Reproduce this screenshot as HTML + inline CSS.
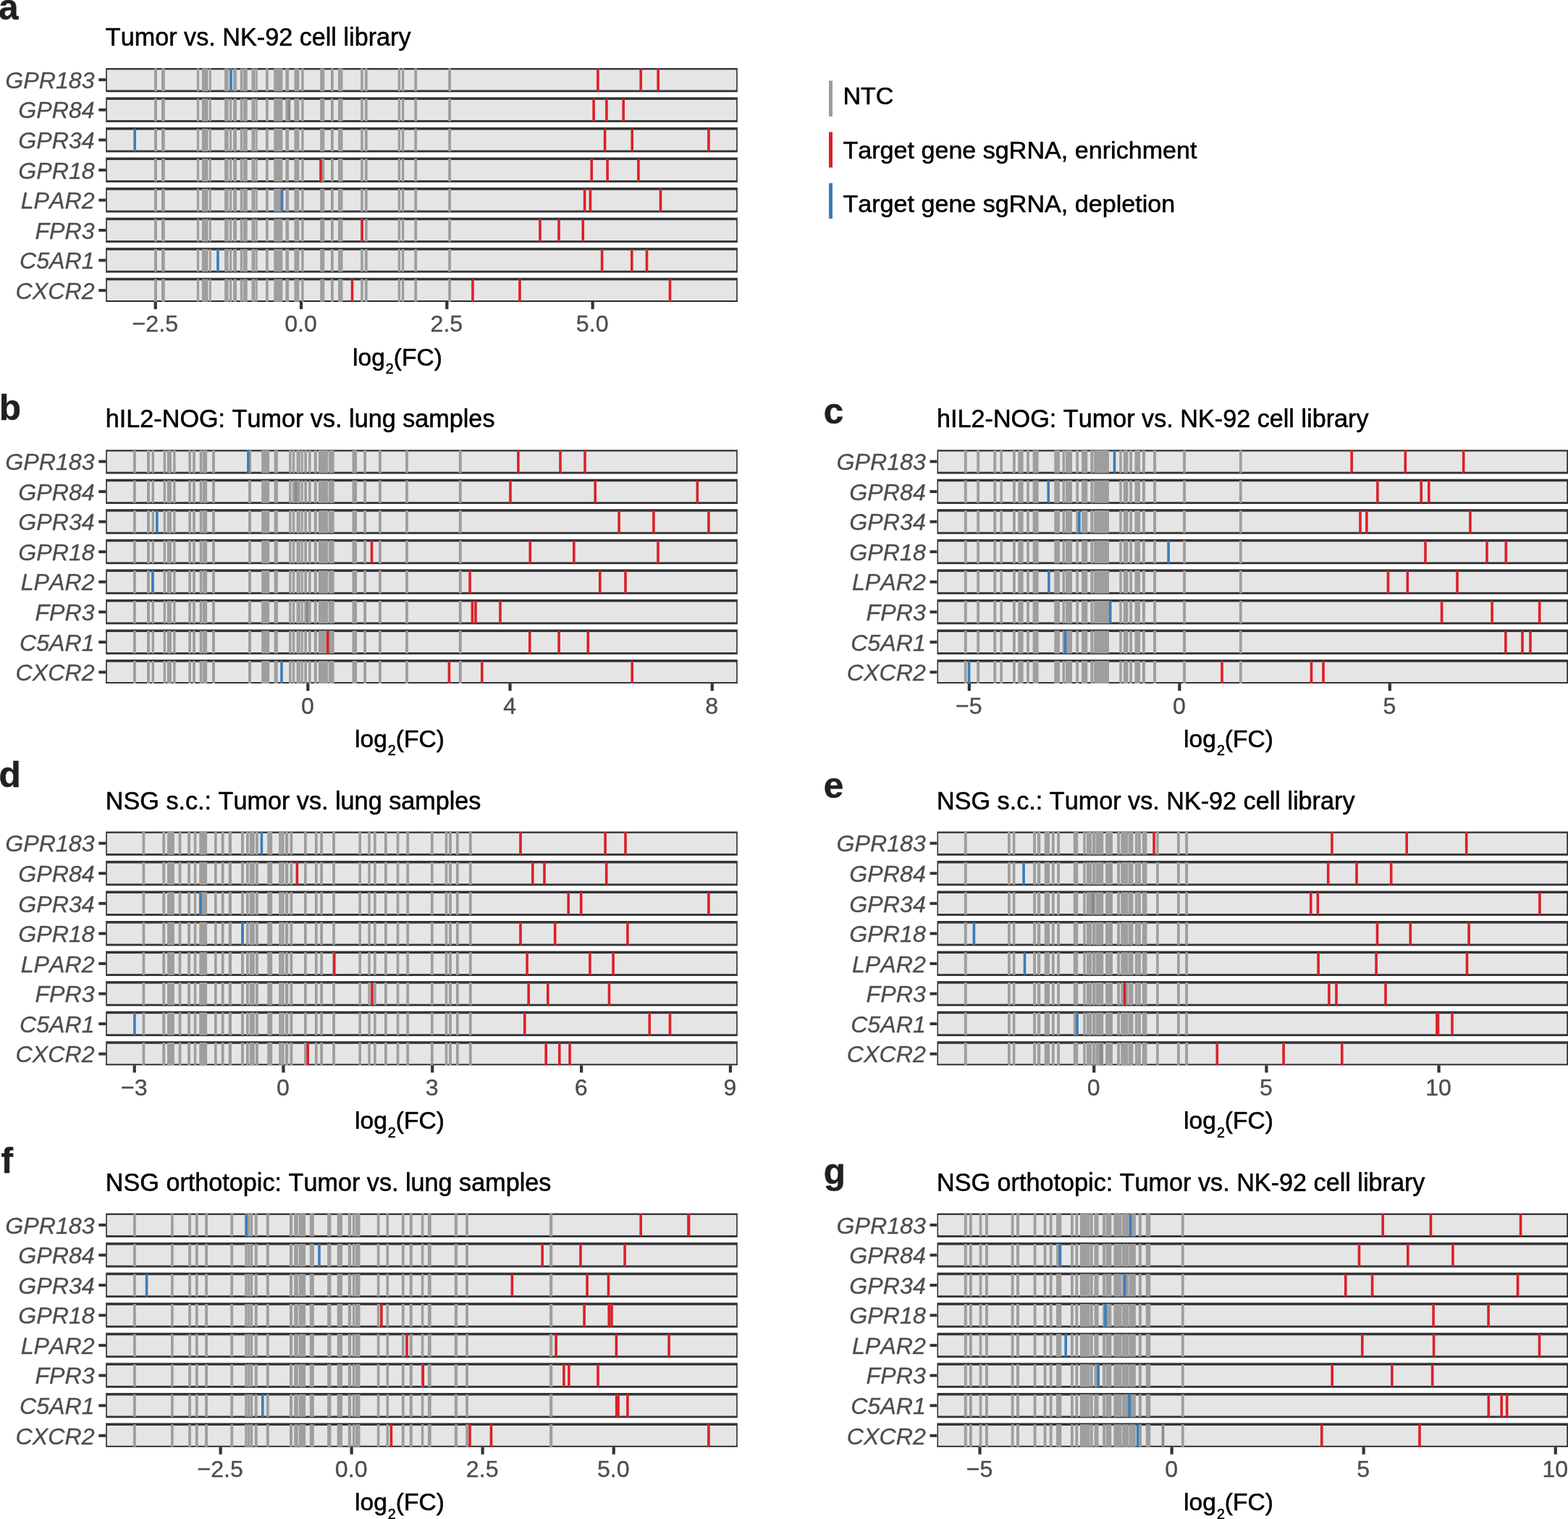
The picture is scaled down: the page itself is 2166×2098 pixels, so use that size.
<!DOCTYPE html>
<html lang="en">
<head>
<meta charset="utf-8">
<title>sgRNA log2(FC) barcode plots</title>
<style>
html,body{margin:0;padding:0;background:#fff;}
body{width:2166px;height:2098px;overflow:hidden;}
svg{display:block;font-family:"Liberation Sans",sans-serif;}
text{stroke-linejoin:round;font-kerning:none;}
.t{font-size:34.2px;fill:#000;stroke:#000;stroke-width:0.55px;}
.g{font-size:32.2px;fill:#4d4d4d;font-style:italic;text-anchor:end;stroke:#4d4d4d;stroke-width:0.3px;}
.x{font-size:32.2px;fill:#4d4d4d;text-anchor:middle;stroke:#4d4d4d;stroke-width:0.35px;}
.L{font-size:49.5px;font-weight:bold;fill:#231f20;stroke:#231f20;stroke-width:0.5px;}
.k{font-size:34.12px;fill:#000;stroke:#000;stroke-width:0.55px;}
.bo{fill:#333333;}.bi{fill:#e5e5e5;}
.n{fill:#9e9e9e;}
.dn{fill:#8a8a8a;}
.r{fill:#dc2028;}
.b{fill:#3a7dba;}
.tk{fill:#333333;}
</style>
</head>
<body>
<svg width="2166" height="2098" viewBox="0 0 2166 2098">
<rect x="0" y="0" width="2166" height="2098" fill="#ffffff"/>
<defs>
<clipPath id="cp-a"><rect x="146.1" y="94.1" width="872.8" height="322.75"/></clipPath>
<clipPath id="cp-b"><rect x="146.1" y="621.35" width="872.8" height="322.75"/></clipPath>
<clipPath id="cp-c"><rect x="1294.3" y="621.35" width="871.7" height="322.75"/></clipPath>
<clipPath id="cp-d"><rect x="146.1" y="1148.6" width="872.8" height="322.75"/></clipPath>
<clipPath id="cp-e"><rect x="1294.3" y="1148.6" width="871.7" height="322.75"/></clipPath>
<clipPath id="cp-f"><rect x="146.1" y="1675.85" width="872.8" height="322.75"/></clipPath>
<clipPath id="cp-g"><rect x="1294.3" y="1675.85" width="871.7" height="322.75"/></clipPath>
</defs>
<g id="panel-a">
<text class="L" x="-2" y="27">a</text>
<text class="t" x="145.8" y="63.2">Tumor vs. NK-92 cell library</text>
<g clip-path="url(#cp-a)">
<rect class="bo" x="146.1" y="92.8" width="872.8" height="34.45"/><rect class="bi" x="147.85" y="96.35" width="869.3" height="28.05"/>
<rect class="bo" x="146.1" y="134.36" width="872.8" height="34.45"/><rect class="bi" x="147.85" y="137.91" width="869.3" height="28.05"/>
<rect class="bo" x="146.1" y="175.92" width="872.8" height="34.45"/><rect class="bi" x="147.85" y="179.47" width="869.3" height="28.05"/>
<rect class="bo" x="146.1" y="217.48" width="872.8" height="34.45"/><rect class="bi" x="147.85" y="221.03" width="869.3" height="28.05"/>
<rect class="bo" x="146.1" y="259.04" width="872.8" height="34.45"/><rect class="bi" x="147.85" y="262.59" width="869.3" height="28.05"/>
<rect class="bo" x="146.1" y="300.6" width="872.8" height="34.45"/><rect class="bi" x="147.85" y="304.15" width="869.3" height="28.05"/>
<rect class="bo" x="146.1" y="342.16" width="872.8" height="34.45"/><rect class="bi" x="147.85" y="345.71" width="869.3" height="28.05"/>
<rect class="bo" x="146.1" y="383.72" width="872.8" height="34.45"/><rect class="bi" x="147.85" y="387.27" width="869.3" height="28.05"/>
<path class="n" d="M213 94.6h4v31.4h-4zM223 94.6h4.8v31.4h-4.8zM271.8 94.6h3.3v31.4h-3.3zM278.8 94.6h8.7v31.4h-8.7zM288.9 94.6h2.9v31.4h-2.9zM310.1 94.6h5.6v31.4h-5.6zM317 94.6h3.2v31.4h-3.2zM322.1 94.6h4.9v31.4h-4.9zM331.8 94.6h3.3v31.4h-3.3zM335.8 94.6h5.9v31.4h-5.9zM347.5 94.6h5.1v31.4h-5.1zM353.2 94.6h2.5v31.4h-2.5zM367 94.6h3.8v31.4h-3.8zM378.3 94.6h12.1v31.4h-12.1zM394.4 94.6h4.7v31.4h-4.7zM406.4 94.6h7v31.4h-7zM416.2 94.6h3.5v31.4h-3.5zM442.2 94.6h6.1v31.4h-6.1zM457 94.6h3.8v31.4h-3.8zM467 94.6h6.5v31.4h-6.5zM498.2 94.6h3.6v31.4h-3.6zM503.9 94.6h3.8v31.4h-3.8zM549.7 94.6h3.4v31.4h-3.4zM554.9 94.6h3.4v31.4h-3.4zM572.3 94.6h3.8v31.4h-3.8zM619.2 94.6h3.8v31.4h-3.8z"/>
<path class="b" d="M317.2 94.6h3.6v31.4h-3.6z"/>
<path class="r" d="M824.1 94.6h3.6v31.4h-3.6zM883.4 94.6h3.6v31.4h-3.6zM907.4 94.6h3.6v31.4h-3.6z"/>
<path class="n" d="M213 136.16h4v31.4h-4zM223 136.16h4.8v31.4h-4.8zM271.8 136.16h3.3v31.4h-3.3zM278.8 136.16h8.7v31.4h-8.7zM288.9 136.16h2.9v31.4h-2.9zM310.1 136.16h5.6v31.4h-5.6zM317 136.16h3.2v31.4h-3.2zM322.1 136.16h4.9v31.4h-4.9zM331.8 136.16h3.3v31.4h-3.3zM335.8 136.16h5.9v31.4h-5.9zM347.5 136.16h5.1v31.4h-5.1zM353.2 136.16h2.5v31.4h-2.5zM367 136.16h3.8v31.4h-3.8zM378.3 136.16h12.1v31.4h-12.1zM394.4 136.16h4.7v31.4h-4.7zM406.4 136.16h7v31.4h-7zM416.2 136.16h3.5v31.4h-3.5zM442.2 136.16h6.1v31.4h-6.1zM457 136.16h3.8v31.4h-3.8zM467 136.16h6.5v31.4h-6.5zM498.2 136.16h3.6v31.4h-3.6zM503.9 136.16h3.8v31.4h-3.8zM549.7 136.16h3.4v31.4h-3.4zM554.9 136.16h3.4v31.4h-3.4zM572.3 136.16h3.8v31.4h-3.8zM619.2 136.16h3.8v31.4h-3.8z"/>
<path class="dn" d="M397.7 136.16h3.6v31.4h-3.6z"/>
<path class="r" d="M818.3 136.16h3.6v31.4h-3.6zM836.1 136.16h3.6v31.4h-3.6zM859.4 136.16h3.6v31.4h-3.6z"/>
<path class="n" d="M213 177.72h4v31.4h-4zM223 177.72h4.8v31.4h-4.8zM271.8 177.72h3.3v31.4h-3.3zM278.8 177.72h8.7v31.4h-8.7zM288.9 177.72h2.9v31.4h-2.9zM310.1 177.72h5.6v31.4h-5.6zM317 177.72h3.2v31.4h-3.2zM322.1 177.72h4.9v31.4h-4.9zM331.8 177.72h3.3v31.4h-3.3zM335.8 177.72h5.9v31.4h-5.9zM347.5 177.72h5.1v31.4h-5.1zM353.2 177.72h2.5v31.4h-2.5zM367 177.72h3.8v31.4h-3.8zM378.3 177.72h12.1v31.4h-12.1zM394.4 177.72h4.7v31.4h-4.7zM406.4 177.72h7v31.4h-7zM416.2 177.72h3.5v31.4h-3.5zM442.2 177.72h6.1v31.4h-6.1zM457 177.72h3.8v31.4h-3.8zM467 177.72h6.5v31.4h-6.5zM498.2 177.72h3.6v31.4h-3.6zM503.9 177.72h3.8v31.4h-3.8zM549.7 177.72h3.4v31.4h-3.4zM554.9 177.72h3.4v31.4h-3.4zM572.3 177.72h3.8v31.4h-3.8zM619.2 177.72h3.8v31.4h-3.8z"/>
<path class="b" d="M184.4 177.72h3.6v31.4h-3.6z"/>
<path class="r" d="M833.8 177.72h3.6v31.4h-3.6zM871.4 177.72h3.6v31.4h-3.6zM977.1 177.72h3.6v31.4h-3.6z"/>
<path class="n" d="M213 219.28h4v31.4h-4zM223 219.28h4.8v31.4h-4.8zM271.8 219.28h3.3v31.4h-3.3zM278.8 219.28h8.7v31.4h-8.7zM288.9 219.28h2.9v31.4h-2.9zM310.1 219.28h5.6v31.4h-5.6zM317 219.28h3.2v31.4h-3.2zM322.1 219.28h4.9v31.4h-4.9zM331.8 219.28h3.3v31.4h-3.3zM335.8 219.28h5.9v31.4h-5.9zM347.5 219.28h5.1v31.4h-5.1zM353.2 219.28h2.5v31.4h-2.5zM367 219.28h3.8v31.4h-3.8zM378.3 219.28h12.1v31.4h-12.1zM394.4 219.28h4.7v31.4h-4.7zM406.4 219.28h7v31.4h-7zM416.2 219.28h3.5v31.4h-3.5zM442.2 219.28h6.1v31.4h-6.1zM457 219.28h3.8v31.4h-3.8zM467 219.28h6.5v31.4h-6.5zM498.2 219.28h3.6v31.4h-3.6zM503.9 219.28h3.8v31.4h-3.8zM549.7 219.28h3.4v31.4h-3.4zM554.9 219.28h3.4v31.4h-3.4zM572.3 219.28h3.8v31.4h-3.8zM619.2 219.28h3.8v31.4h-3.8z"/>
<path class="r" d="M441.2 219.28h3.6v31.4h-3.6zM815.4 219.28h3.6v31.4h-3.6zM837.3 219.28h3.6v31.4h-3.6zM880.1 219.28h3.6v31.4h-3.6z"/>
<path class="n" d="M213 260.84h4v31.4h-4zM223 260.84h4.8v31.4h-4.8zM271.8 260.84h3.3v31.4h-3.3zM278.8 260.84h8.7v31.4h-8.7zM288.9 260.84h2.9v31.4h-2.9zM310.1 260.84h5.6v31.4h-5.6zM317 260.84h3.2v31.4h-3.2zM322.1 260.84h4.9v31.4h-4.9zM331.8 260.84h3.3v31.4h-3.3zM335.8 260.84h5.9v31.4h-5.9zM347.5 260.84h5.1v31.4h-5.1zM353.2 260.84h2.5v31.4h-2.5zM367 260.84h3.8v31.4h-3.8zM378.3 260.84h12.1v31.4h-12.1zM394.4 260.84h4.7v31.4h-4.7zM406.4 260.84h7v31.4h-7zM416.2 260.84h3.5v31.4h-3.5zM442.2 260.84h6.1v31.4h-6.1zM457 260.84h3.8v31.4h-3.8zM467 260.84h6.5v31.4h-6.5zM498.2 260.84h3.6v31.4h-3.6zM503.9 260.84h3.8v31.4h-3.8zM549.7 260.84h3.4v31.4h-3.4zM554.9 260.84h3.4v31.4h-3.4zM572.3 260.84h3.8v31.4h-3.8zM619.2 260.84h3.8v31.4h-3.8z"/>
<path class="b" d="M387.8 260.84h3.6v31.4h-3.6z"/>
<path class="r" d="M805.8 260.84h3.6v31.4h-3.6zM813.6 260.84h3.6v31.4h-3.6zM910.7 260.84h3.6v31.4h-3.6z"/>
<path class="n" d="M213 302.4h4v31.4h-4zM223 302.4h4.8v31.4h-4.8zM271.8 302.4h3.3v31.4h-3.3zM278.8 302.4h8.7v31.4h-8.7zM288.9 302.4h2.9v31.4h-2.9zM310.1 302.4h5.6v31.4h-5.6zM317 302.4h3.2v31.4h-3.2zM322.1 302.4h4.9v31.4h-4.9zM331.8 302.4h3.3v31.4h-3.3zM335.8 302.4h5.9v31.4h-5.9zM347.5 302.4h5.1v31.4h-5.1zM353.2 302.4h2.5v31.4h-2.5zM367 302.4h3.8v31.4h-3.8zM378.3 302.4h12.1v31.4h-12.1zM394.4 302.4h4.7v31.4h-4.7zM406.4 302.4h7v31.4h-7zM416.2 302.4h3.5v31.4h-3.5zM442.2 302.4h6.1v31.4h-6.1zM457 302.4h3.8v31.4h-3.8zM467 302.4h6.5v31.4h-6.5zM498.2 302.4h3.6v31.4h-3.6zM503.9 302.4h3.8v31.4h-3.8zM549.7 302.4h3.4v31.4h-3.4zM554.9 302.4h3.4v31.4h-3.4zM572.3 302.4h3.8v31.4h-3.8zM619.2 302.4h3.8v31.4h-3.8z"/>
<path class="r" d="M498.3 302.4h3.6v31.4h-3.6zM744.2 302.4h3.6v31.4h-3.6zM770.2 302.4h3.6v31.4h-3.6zM803.5 302.4h3.6v31.4h-3.6z"/>
<path class="n" d="M213 343.96h4v31.4h-4zM223 343.96h4.8v31.4h-4.8zM271.8 343.96h3.3v31.4h-3.3zM278.8 343.96h8.7v31.4h-8.7zM288.9 343.96h2.9v31.4h-2.9zM310.1 343.96h5.6v31.4h-5.6zM317 343.96h3.2v31.4h-3.2zM322.1 343.96h4.9v31.4h-4.9zM331.8 343.96h3.3v31.4h-3.3zM335.8 343.96h5.9v31.4h-5.9zM347.5 343.96h5.1v31.4h-5.1zM353.2 343.96h2.5v31.4h-2.5zM367 343.96h3.8v31.4h-3.8zM378.3 343.96h12.1v31.4h-12.1zM394.4 343.96h4.7v31.4h-4.7zM406.4 343.96h7v31.4h-7zM416.2 343.96h3.5v31.4h-3.5zM442.2 343.96h6.1v31.4h-6.1zM457 343.96h3.8v31.4h-3.8zM467 343.96h6.5v31.4h-6.5zM498.2 343.96h3.6v31.4h-3.6zM503.9 343.96h3.8v31.4h-3.8zM549.7 343.96h3.4v31.4h-3.4zM554.9 343.96h3.4v31.4h-3.4zM572.3 343.96h3.8v31.4h-3.8zM619.2 343.96h3.8v31.4h-3.8z"/>
<path class="b" d="M299.2 343.96h3.6v31.4h-3.6z"/>
<path class="r" d="M829.8 343.96h3.6v31.4h-3.6zM871 343.96h3.6v31.4h-3.6zM891.7 343.96h3.6v31.4h-3.6z"/>
<path class="n" d="M213 385.52h4v31.4h-4zM223 385.52h4.8v31.4h-4.8zM271.8 385.52h3.3v31.4h-3.3zM278.8 385.52h8.7v31.4h-8.7zM288.9 385.52h2.9v31.4h-2.9zM310.1 385.52h5.6v31.4h-5.6zM317 385.52h3.2v31.4h-3.2zM322.1 385.52h4.9v31.4h-4.9zM331.8 385.52h3.3v31.4h-3.3zM335.8 385.52h5.9v31.4h-5.9zM347.5 385.52h5.1v31.4h-5.1zM353.2 385.52h2.5v31.4h-2.5zM367 385.52h3.8v31.4h-3.8zM378.3 385.52h12.1v31.4h-12.1zM394.4 385.52h4.7v31.4h-4.7zM406.4 385.52h7v31.4h-7zM416.2 385.52h3.5v31.4h-3.5zM442.2 385.52h6.1v31.4h-6.1zM457 385.52h3.8v31.4h-3.8zM467 385.52h6.5v31.4h-6.5zM498.2 385.52h3.6v31.4h-3.6zM503.9 385.52h3.8v31.4h-3.8zM549.7 385.52h3.4v31.4h-3.4zM554.9 385.52h3.4v31.4h-3.4zM572.3 385.52h3.8v31.4h-3.8zM619.2 385.52h3.8v31.4h-3.8z"/>
<path class="r" d="M484.7 385.52h3.6v31.4h-3.6zM651.2 385.52h3.6v31.4h-3.6zM716.2 385.52h3.6v31.4h-3.6zM923.7 385.52h3.6v31.4h-3.6z"/>
<rect x="146.1" y="415.05" width="872.8" height="1.9" fill="#242424"/>
<path class="n" d="M213 414.5h4v3h-4zM223 414.5h4.8v3h-4.8zM271.8 414.5h3.3v3h-3.3zM278.8 414.5h8.7v3h-8.7zM288.9 414.5h2.9v3h-2.9zM310.1 414.5h5.6v3h-5.6zM317 414.5h3.2v3h-3.2zM322.1 414.5h4.9v3h-4.9zM331.8 414.5h3.3v3h-3.3zM335.8 414.5h5.9v3h-5.9zM347.5 414.5h5.1v3h-5.1zM353.2 414.5h2.5v3h-2.5zM367 414.5h3.8v3h-3.8zM378.3 414.5h12.1v3h-12.1zM394.4 414.5h4.7v3h-4.7zM406.4 414.5h7v3h-7zM416.2 414.5h3.5v3h-3.5zM442.2 414.5h6.1v3h-6.1zM457 414.5h3.8v3h-3.8zM467 414.5h6.5v3h-6.5zM498.2 414.5h3.6v3h-3.6zM503.9 414.5h3.8v3h-3.8zM549.7 414.5h3.4v3h-3.4zM554.9 414.5h3.4v3h-3.4zM572.3 414.5h3.8v3h-3.8zM619.2 414.5h3.8v3h-3.8z"/>
<path class="r" d="M484.7 414.5h3.6v3h-3.6zM651.2 414.5h3.6v3h-3.6zM716.2 414.5h3.6v3h-3.6zM923.7 414.5h3.6v3h-3.6z"/>
</g>
<rect class="tk" x="136.3" y="108.2" width="9.8" height="4"/><text class="g" x="130.7" y="121.9">GPR183</text>
<rect class="tk" x="136.3" y="149.76" width="9.8" height="4"/><text class="g" x="130.7" y="163.46">GPR84</text>
<rect class="tk" x="136.3" y="191.32" width="9.8" height="4"/><text class="g" x="130.7" y="205.02">GPR34</text>
<rect class="tk" x="136.3" y="232.88" width="9.8" height="4"/><text class="g" x="130.7" y="246.58">GPR18</text>
<rect class="tk" x="136.3" y="274.44" width="9.8" height="4"/><text class="g" x="130.7" y="288.14">LPAR2</text>
<rect class="tk" x="136.3" y="316" width="9.8" height="4"/><text class="g" x="130.7" y="329.7">FPR3</text>
<rect class="tk" x="136.3" y="357.56" width="9.8" height="4"/><text class="g" x="130.7" y="371.26">C5AR1</text>
<rect class="tk" x="136.3" y="399.12" width="9.8" height="4"/><text class="g" x="130.7" y="412.82">CXCR2</text>
<rect class="tk" x="212.65" y="416.85" width="4.2" height="10.1"/><text class="x" x="214.3" y="458.4">−2.5</text>
<rect class="tk" x="413.95" y="416.85" width="4.2" height="10.1"/><text class="x" x="415.6" y="458.4">0.0</text>
<rect class="tk" x="615.25" y="416.85" width="4.2" height="10.1"/><text class="x" x="616.9" y="458.4">2.5</text>
<rect class="tk" x="816.55" y="416.85" width="4.2" height="10.1"/><text class="x" x="818.2" y="458.4">5.0</text>
<text class="t" style="font-size:33.6px" x="487" y="504.5">log<tspan font-size="19.6" dy="11.7" dx="1">2</tspan><tspan dy="-11.7" dx="0">(FC)</tspan></text>
</g>
<g id="panel-b">
<text class="L" x="-1.3" y="580.3">b</text>
<text class="t" x="145.8" y="590.45">hIL2-NOG: Tumor vs. lung samples</text>
<g clip-path="url(#cp-b)">
<rect class="bo" x="146.1" y="620.05" width="872.8" height="34.45"/><rect class="bi" x="147.85" y="623.6" width="869.3" height="28.05"/>
<rect class="bo" x="146.1" y="661.61" width="872.8" height="34.45"/><rect class="bi" x="147.85" y="665.16" width="869.3" height="28.05"/>
<rect class="bo" x="146.1" y="703.17" width="872.8" height="34.45"/><rect class="bi" x="147.85" y="706.72" width="869.3" height="28.05"/>
<rect class="bo" x="146.1" y="744.73" width="872.8" height="34.45"/><rect class="bi" x="147.85" y="748.28" width="869.3" height="28.05"/>
<rect class="bo" x="146.1" y="786.29" width="872.8" height="34.45"/><rect class="bi" x="147.85" y="789.84" width="869.3" height="28.05"/>
<rect class="bo" x="146.1" y="827.85" width="872.8" height="34.45"/><rect class="bi" x="147.85" y="831.4" width="869.3" height="28.05"/>
<rect class="bo" x="146.1" y="869.41" width="872.8" height="34.45"/><rect class="bi" x="147.85" y="872.96" width="869.3" height="28.05"/>
<rect class="bo" x="146.1" y="910.97" width="872.8" height="34.45"/><rect class="bi" x="147.85" y="914.52" width="869.3" height="28.05"/>
<path class="n" d="M184 621.85h3.8v31.4h-3.8zM203 621.85h4v31.4h-4zM209.6 621.85h3.4v31.4h-3.4zM225.6 621.85h3.4v31.4h-3.4zM230.8 621.85h6.2v31.4h-6.2zM239.1 621.85h3.5v31.4h-3.5zM260.3 621.85h3.7v31.4h-3.7zM266.1 621.85h3.8v31.4h-3.8zM275.7 621.85h3.4v31.4h-3.4zM279.7 621.85h6.4v31.4h-6.4zM293 621.85h3.9v31.4h-3.9zM343 621.85h4v31.4h-4zM361.2 621.85h11v31.4h-11zM378.6 621.85h5.2v31.4h-5.2zM399.1 621.85h3.5v31.4h-3.5zM403.8 621.85h3.5v31.4h-3.5zM409.6 621.85h5.2v31.4h-5.2zM415.7 621.85h3.1v31.4h-3.1zM420.3 621.85h3.7v31.4h-3.7zM426.1 621.85h3.5v31.4h-3.5zM433.8 621.85h4v31.4h-4zM439.9 621.85h13.1v31.4h-13.1zM453.8 621.85h7.9v31.4h-7.9zM486.5 621.85h6.6v31.4h-6.6zM502.2 621.85h3.8v31.4h-3.8zM523 621.85h3.9v31.4h-3.9zM560.1 621.85h3.8v31.4h-3.8zM633.8 621.85h4v31.4h-4z"/>
<path class="b" d="M341.1 621.85h3.6v31.4h-3.6z"/>
<path class="r" d="M714.1 621.85h3.6v31.4h-3.6zM772.2 621.85h3.6v31.4h-3.6zM806.2 621.85h3.6v31.4h-3.6z"/>
<path class="n" d="M184 663.41h3.8v31.4h-3.8zM203 663.41h4v31.4h-4zM209.6 663.41h3.4v31.4h-3.4zM225.6 663.41h3.4v31.4h-3.4zM230.8 663.41h6.2v31.4h-6.2zM239.1 663.41h3.5v31.4h-3.5zM260.3 663.41h3.7v31.4h-3.7zM266.1 663.41h3.8v31.4h-3.8zM275.7 663.41h3.4v31.4h-3.4zM279.7 663.41h6.4v31.4h-6.4zM293 663.41h3.9v31.4h-3.9zM343 663.41h4v31.4h-4zM361.2 663.41h11v31.4h-11zM378.6 663.41h5.2v31.4h-5.2zM399.1 663.41h3.5v31.4h-3.5zM403.8 663.41h3.5v31.4h-3.5zM409.6 663.41h5.2v31.4h-5.2zM415.7 663.41h3.1v31.4h-3.1zM420.3 663.41h3.7v31.4h-3.7zM426.1 663.41h3.5v31.4h-3.5zM433.8 663.41h4v31.4h-4zM439.9 663.41h13.1v31.4h-13.1zM453.8 663.41h7.9v31.4h-7.9zM486.5 663.41h6.6v31.4h-6.6zM502.2 663.41h3.8v31.4h-3.8zM523 663.41h3.9v31.4h-3.9zM560.1 663.41h3.8v31.4h-3.8zM633.8 663.41h4v31.4h-4z"/>
<path class="dn" d="M406.9 663.41h3.6v31.4h-3.6z"/>
<path class="r" d="M703.2 663.41h3.6v31.4h-3.6zM820.4 663.41h3.6v31.4h-3.6zM961.5 663.41h3.6v31.4h-3.6z"/>
<path class="n" d="M184 704.97h3.8v31.4h-3.8zM203 704.97h4v31.4h-4zM209.6 704.97h3.4v31.4h-3.4zM225.6 704.97h3.4v31.4h-3.4zM230.8 704.97h6.2v31.4h-6.2zM239.1 704.97h3.5v31.4h-3.5zM260.3 704.97h3.7v31.4h-3.7zM266.1 704.97h3.8v31.4h-3.8zM275.7 704.97h3.4v31.4h-3.4zM279.7 704.97h6.4v31.4h-6.4zM293 704.97h3.9v31.4h-3.9zM343 704.97h4v31.4h-4zM361.2 704.97h11v31.4h-11zM378.6 704.97h5.2v31.4h-5.2zM399.1 704.97h3.5v31.4h-3.5zM403.8 704.97h3.5v31.4h-3.5zM409.6 704.97h5.2v31.4h-5.2zM415.7 704.97h3.1v31.4h-3.1zM420.3 704.97h3.7v31.4h-3.7zM426.1 704.97h3.5v31.4h-3.5zM433.8 704.97h4v31.4h-4zM439.9 704.97h13.1v31.4h-13.1zM453.8 704.97h7.9v31.4h-7.9zM486.5 704.97h6.6v31.4h-6.6zM502.2 704.97h3.8v31.4h-3.8zM523 704.97h3.9v31.4h-3.9zM560.1 704.97h3.8v31.4h-3.8zM633.8 704.97h4v31.4h-4z"/>
<path class="b" d="M215.1 704.97h3.6v31.4h-3.6z"/>
<path class="r" d="M853.3 704.97h3.6v31.4h-3.6zM901.1 704.97h3.6v31.4h-3.6zM977.1 704.97h3.6v31.4h-3.6z"/>
<path class="n" d="M184 746.53h3.8v31.4h-3.8zM203 746.53h4v31.4h-4zM209.6 746.53h3.4v31.4h-3.4zM225.6 746.53h3.4v31.4h-3.4zM230.8 746.53h6.2v31.4h-6.2zM239.1 746.53h3.5v31.4h-3.5zM260.3 746.53h3.7v31.4h-3.7zM266.1 746.53h3.8v31.4h-3.8zM275.7 746.53h3.4v31.4h-3.4zM279.7 746.53h6.4v31.4h-6.4zM293 746.53h3.9v31.4h-3.9zM343 746.53h4v31.4h-4zM361.2 746.53h11v31.4h-11zM378.6 746.53h5.2v31.4h-5.2zM399.1 746.53h3.5v31.4h-3.5zM403.8 746.53h3.5v31.4h-3.5zM409.6 746.53h5.2v31.4h-5.2zM415.7 746.53h3.1v31.4h-3.1zM420.3 746.53h3.7v31.4h-3.7zM426.1 746.53h3.5v31.4h-3.5zM433.8 746.53h4v31.4h-4zM439.9 746.53h13.1v31.4h-13.1zM453.8 746.53h7.9v31.4h-7.9zM486.5 746.53h6.6v31.4h-6.6zM502.2 746.53h3.8v31.4h-3.8zM523 746.53h3.9v31.4h-3.9zM560.1 746.53h3.8v31.4h-3.8zM633.8 746.53h4v31.4h-4z"/>
<path class="r" d="M511.7 746.53h3.6v31.4h-3.6zM730.5 746.53h3.6v31.4h-3.6zM791 746.53h3.6v31.4h-3.6zM907.2 746.53h3.6v31.4h-3.6z"/>
<path class="n" d="M184 788.09h3.8v31.4h-3.8zM203 788.09h4v31.4h-4zM209.6 788.09h3.4v31.4h-3.4zM225.6 788.09h3.4v31.4h-3.4zM230.8 788.09h6.2v31.4h-6.2zM239.1 788.09h3.5v31.4h-3.5zM260.3 788.09h3.7v31.4h-3.7zM266.1 788.09h3.8v31.4h-3.8zM275.7 788.09h3.4v31.4h-3.4zM279.7 788.09h6.4v31.4h-6.4zM293 788.09h3.9v31.4h-3.9zM343 788.09h4v31.4h-4zM361.2 788.09h11v31.4h-11zM378.6 788.09h5.2v31.4h-5.2zM399.1 788.09h3.5v31.4h-3.5zM403.8 788.09h3.5v31.4h-3.5zM409.6 788.09h5.2v31.4h-5.2zM415.7 788.09h3.1v31.4h-3.1zM420.3 788.09h3.7v31.4h-3.7zM426.1 788.09h3.5v31.4h-3.5zM433.8 788.09h4v31.4h-4zM439.9 788.09h13.1v31.4h-13.1zM453.8 788.09h7.9v31.4h-7.9zM486.5 788.09h6.6v31.4h-6.6zM502.2 788.09h3.8v31.4h-3.8zM523 788.09h3.9v31.4h-3.9zM560.1 788.09h3.8v31.4h-3.8zM633.8 788.09h4v31.4h-4z"/>
<path class="b" d="M209.1 788.09h3.6v31.4h-3.6z"/>
<path class="r" d="M647.3 788.09h3.6v31.4h-3.6zM827 788.09h3.6v31.4h-3.6zM862.2 788.09h3.6v31.4h-3.6z"/>
<path class="n" d="M184 829.65h3.8v31.4h-3.8zM203 829.65h4v31.4h-4zM209.6 829.65h3.4v31.4h-3.4zM225.6 829.65h3.4v31.4h-3.4zM230.8 829.65h6.2v31.4h-6.2zM239.1 829.65h3.5v31.4h-3.5zM260.3 829.65h3.7v31.4h-3.7zM266.1 829.65h3.8v31.4h-3.8zM275.7 829.65h3.4v31.4h-3.4zM279.7 829.65h6.4v31.4h-6.4zM293 829.65h3.9v31.4h-3.9zM343 829.65h4v31.4h-4zM361.2 829.65h11v31.4h-11zM378.6 829.65h5.2v31.4h-5.2zM399.1 829.65h3.5v31.4h-3.5zM403.8 829.65h3.5v31.4h-3.5zM409.6 829.65h5.2v31.4h-5.2zM415.7 829.65h3.1v31.4h-3.1zM420.3 829.65h3.7v31.4h-3.7zM426.1 829.65h3.5v31.4h-3.5zM433.8 829.65h4v31.4h-4zM439.9 829.65h13.1v31.4h-13.1zM453.8 829.65h7.9v31.4h-7.9zM486.5 829.65h6.6v31.4h-6.6zM502.2 829.65h3.8v31.4h-3.8zM523 829.65h3.9v31.4h-3.9zM560.1 829.65h3.8v31.4h-3.8zM633.8 829.65h4v31.4h-4z"/>
<path class="dn" d="M422.5 829.65h3.6v31.4h-3.6z"/>
<path class="r" d="M650.6 829.65h3.6v31.4h-3.6zM655.2 829.65h3.6v31.4h-3.6zM689.2 829.65h3.6v31.4h-3.6z"/>
<path class="n" d="M184 871.21h3.8v31.4h-3.8zM203 871.21h4v31.4h-4zM209.6 871.21h3.4v31.4h-3.4zM225.6 871.21h3.4v31.4h-3.4zM230.8 871.21h6.2v31.4h-6.2zM239.1 871.21h3.5v31.4h-3.5zM260.3 871.21h3.7v31.4h-3.7zM266.1 871.21h3.8v31.4h-3.8zM275.7 871.21h3.4v31.4h-3.4zM279.7 871.21h6.4v31.4h-6.4zM293 871.21h3.9v31.4h-3.9zM343 871.21h4v31.4h-4zM361.2 871.21h11v31.4h-11zM378.6 871.21h5.2v31.4h-5.2zM399.1 871.21h3.5v31.4h-3.5zM403.8 871.21h3.5v31.4h-3.5zM409.6 871.21h5.2v31.4h-5.2zM415.7 871.21h3.1v31.4h-3.1zM420.3 871.21h3.7v31.4h-3.7zM426.1 871.21h3.5v31.4h-3.5zM433.8 871.21h4v31.4h-4zM439.9 871.21h13.1v31.4h-13.1zM453.8 871.21h7.9v31.4h-7.9zM486.5 871.21h6.6v31.4h-6.6zM502.2 871.21h3.8v31.4h-3.8zM523 871.21h3.9v31.4h-3.9zM560.1 871.21h3.8v31.4h-3.8zM633.8 871.21h4v31.4h-4z"/>
<path class="r" d="M451 871.21h3.6v31.4h-3.6zM730 871.21h3.6v31.4h-3.6zM770.3 871.21h3.6v31.4h-3.6zM810.5 871.21h3.6v31.4h-3.6z"/>
<path class="n" d="M184 912.77h3.8v31.4h-3.8zM203 912.77h4v31.4h-4zM209.6 912.77h3.4v31.4h-3.4zM225.6 912.77h3.4v31.4h-3.4zM230.8 912.77h6.2v31.4h-6.2zM239.1 912.77h3.5v31.4h-3.5zM260.3 912.77h3.7v31.4h-3.7zM266.1 912.77h3.8v31.4h-3.8zM275.7 912.77h3.4v31.4h-3.4zM279.7 912.77h6.4v31.4h-6.4zM293 912.77h3.9v31.4h-3.9zM343 912.77h4v31.4h-4zM361.2 912.77h11v31.4h-11zM378.6 912.77h5.2v31.4h-5.2zM399.1 912.77h3.5v31.4h-3.5zM403.8 912.77h3.5v31.4h-3.5zM409.6 912.77h5.2v31.4h-5.2zM415.7 912.77h3.1v31.4h-3.1zM420.3 912.77h3.7v31.4h-3.7zM426.1 912.77h3.5v31.4h-3.5zM433.8 912.77h4v31.4h-4zM439.9 912.77h13.1v31.4h-13.1zM453.8 912.77h7.9v31.4h-7.9zM486.5 912.77h6.6v31.4h-6.6zM502.2 912.77h3.8v31.4h-3.8zM523 912.77h3.9v31.4h-3.9zM560.1 912.77h3.8v31.4h-3.8zM633.8 912.77h4v31.4h-4z"/>
<path class="b" d="M387.2 912.77h3.6v31.4h-3.6z"/>
<path class="r" d="M618.6 912.77h3.6v31.4h-3.6zM664 912.77h3.6v31.4h-3.6zM871.4 912.77h3.6v31.4h-3.6z"/>
<rect x="146.1" y="942.3" width="872.8" height="1.9" fill="#242424"/>
<path class="n" d="M184 941.75h3.8v3h-3.8zM203 941.75h4v3h-4zM209.6 941.75h3.4v3h-3.4zM225.6 941.75h3.4v3h-3.4zM230.8 941.75h6.2v3h-6.2zM239.1 941.75h3.5v3h-3.5zM260.3 941.75h3.7v3h-3.7zM266.1 941.75h3.8v3h-3.8zM275.7 941.75h3.4v3h-3.4zM279.7 941.75h6.4v3h-6.4zM293 941.75h3.9v3h-3.9zM343 941.75h4v3h-4zM361.2 941.75h11v3h-11zM378.6 941.75h5.2v3h-5.2zM399.1 941.75h3.5v3h-3.5zM403.8 941.75h3.5v3h-3.5zM409.6 941.75h5.2v3h-5.2zM415.7 941.75h3.1v3h-3.1zM420.3 941.75h3.7v3h-3.7zM426.1 941.75h3.5v3h-3.5zM433.8 941.75h4v3h-4zM439.9 941.75h13.1v3h-13.1zM453.8 941.75h7.9v3h-7.9zM486.5 941.75h6.6v3h-6.6zM502.2 941.75h3.8v3h-3.8zM523 941.75h3.9v3h-3.9zM560.1 941.75h3.8v3h-3.8zM633.8 941.75h4v3h-4z"/>
<path class="b" d="M387.2 941.75h3.6v3h-3.6z"/>
<path class="r" d="M618.6 941.75h3.6v3h-3.6zM664 941.75h3.6v3h-3.6zM871.4 941.75h3.6v3h-3.6z"/>
</g>
<rect class="tk" x="136.3" y="635.45" width="9.8" height="4"/><text class="g" x="130.7" y="649.15">GPR183</text>
<rect class="tk" x="136.3" y="677.01" width="9.8" height="4"/><text class="g" x="130.7" y="690.71">GPR84</text>
<rect class="tk" x="136.3" y="718.57" width="9.8" height="4"/><text class="g" x="130.7" y="732.27">GPR34</text>
<rect class="tk" x="136.3" y="760.13" width="9.8" height="4"/><text class="g" x="130.7" y="773.83">GPR18</text>
<rect class="tk" x="136.3" y="801.69" width="9.8" height="4"/><text class="g" x="130.7" y="815.39">LPAR2</text>
<rect class="tk" x="136.3" y="843.25" width="9.8" height="4"/><text class="g" x="130.7" y="856.95">FPR3</text>
<rect class="tk" x="136.3" y="884.81" width="9.8" height="4"/><text class="g" x="130.7" y="898.51">C5AR1</text>
<rect class="tk" x="136.3" y="926.37" width="9.8" height="4"/><text class="g" x="130.7" y="940.07">CXCR2</text>
<rect class="tk" x="423.25" y="944.1" width="4.2" height="10.1"/><text class="x" x="424.9" y="985.65">0</text>
<rect class="tk" x="702.45" y="944.1" width="4.2" height="10.1"/><text class="x" x="704.1" y="985.65">4</text>
<rect class="tk" x="981.65" y="944.1" width="4.2" height="10.1"/><text class="x" x="983.3" y="985.65">8</text>
<text class="t" style="font-size:33.6px" x="490" y="1031.75">log<tspan font-size="19.6" dy="11.7" dx="1">2</tspan><tspan dy="-11.7" dx="0">(FC)</tspan></text>
</g>
<g id="panel-c">
<text class="L" x="1137.7" y="584.5">c</text>
<text class="t" x="1294" y="590.45">hIL2-NOG: Tumor vs. NK-92 cell library</text>
<g clip-path="url(#cp-c)">
<rect class="bo" x="1294.3" y="620.05" width="871.7" height="34.45"/><rect class="bi" x="1296.05" y="623.6" width="868.2" height="28.05"/>
<rect class="bo" x="1294.3" y="661.61" width="871.7" height="34.45"/><rect class="bi" x="1296.05" y="665.16" width="868.2" height="28.05"/>
<rect class="bo" x="1294.3" y="703.17" width="871.7" height="34.45"/><rect class="bi" x="1296.05" y="706.72" width="868.2" height="28.05"/>
<rect class="bo" x="1294.3" y="744.73" width="871.7" height="34.45"/><rect class="bi" x="1296.05" y="748.28" width="868.2" height="28.05"/>
<rect class="bo" x="1294.3" y="786.29" width="871.7" height="34.45"/><rect class="bi" x="1296.05" y="789.84" width="868.2" height="28.05"/>
<rect class="bo" x="1294.3" y="827.85" width="871.7" height="34.45"/><rect class="bi" x="1296.05" y="831.4" width="868.2" height="28.05"/>
<rect class="bo" x="1294.3" y="869.41" width="871.7" height="34.45"/><rect class="bi" x="1296.05" y="872.96" width="868.2" height="28.05"/>
<rect class="bo" x="1294.3" y="910.97" width="871.7" height="34.45"/><rect class="bi" x="1296.05" y="914.52" width="868.2" height="28.05"/>
<path class="n" d="M1331.8 621.85h4v31.4h-4zM1349.2 621.85h4v31.4h-4zM1372.3 621.85h3.9v31.4h-3.9zM1381.4 621.85h3.6v31.4h-3.6zM1399 621.85h3.8v31.4h-3.8zM1406.3 621.85h7.3v31.4h-7.3zM1418.1 621.85h3.8v31.4h-3.8zM1426.6 621.85h8v31.4h-8zM1456.3 621.85h7.7v31.4h-7.7zM1467.5 621.85h3.6v31.4h-3.6zM1472 621.85h9v31.4h-9zM1486.3 621.85h3.8v31.4h-3.8zM1494.1 621.85h8.2v31.4h-8.2zM1506.3 621.85h4v31.4h-4zM1511.1 621.85h20.9v31.4h-20.9zM1546.3 621.85h3.4v31.4h-3.4zM1551.8 621.85h6.6v31.4h-6.6zM1560.2 621.85h3.8v31.4h-3.8zM1567.5 621.85h7.5v31.4h-7.5zM1577.9 621.85h4v31.4h-4zM1593.1 621.85h4v31.4h-4zM1634.1 621.85h3.9v31.4h-3.9zM1711.9 621.85h3.8v31.4h-3.8z"/>
<path class="b" d="M1537.7 621.85h3.6v31.4h-3.6z"/>
<path class="r" d="M1865.4 621.85h3.6v31.4h-3.6zM1939.5 621.85h3.6v31.4h-3.6zM2019.9 621.85h3.6v31.4h-3.6z"/>
<path class="n" d="M1331.8 663.41h4v31.4h-4zM1349.2 663.41h4v31.4h-4zM1372.3 663.41h3.9v31.4h-3.9zM1381.4 663.41h3.6v31.4h-3.6zM1399 663.41h3.8v31.4h-3.8zM1406.3 663.41h7.3v31.4h-7.3zM1418.1 663.41h3.8v31.4h-3.8zM1426.6 663.41h8v31.4h-8zM1456.3 663.41h7.7v31.4h-7.7zM1467.5 663.41h3.6v31.4h-3.6zM1472 663.41h9v31.4h-9zM1486.3 663.41h3.8v31.4h-3.8zM1494.1 663.41h8.2v31.4h-8.2zM1506.3 663.41h4v31.4h-4zM1511.1 663.41h20.9v31.4h-20.9zM1546.3 663.41h3.4v31.4h-3.4zM1551.8 663.41h6.6v31.4h-6.6zM1560.2 663.41h3.8v31.4h-3.8zM1567.5 663.41h7.5v31.4h-7.5zM1577.9 663.41h4v31.4h-4zM1593.1 663.41h4v31.4h-4zM1634.1 663.41h3.9v31.4h-3.9zM1711.9 663.41h3.8v31.4h-3.8z"/>
<path class="b" d="M1446.4 663.41h3.6v31.4h-3.6z"/>
<path class="r" d="M1901.1 663.41h3.6v31.4h-3.6zM1961.4 663.41h3.6v31.4h-3.6zM1972 663.41h3.6v31.4h-3.6z"/>
<path class="n" d="M1331.8 704.97h4v31.4h-4zM1349.2 704.97h4v31.4h-4zM1372.3 704.97h3.9v31.4h-3.9zM1381.4 704.97h3.6v31.4h-3.6zM1399 704.97h3.8v31.4h-3.8zM1406.3 704.97h7.3v31.4h-7.3zM1418.1 704.97h3.8v31.4h-3.8zM1426.6 704.97h8v31.4h-8zM1456.3 704.97h7.7v31.4h-7.7zM1467.5 704.97h3.6v31.4h-3.6zM1472 704.97h9v31.4h-9zM1486.3 704.97h3.8v31.4h-3.8zM1494.1 704.97h8.2v31.4h-8.2zM1506.3 704.97h4v31.4h-4zM1511.1 704.97h20.9v31.4h-20.9zM1546.3 704.97h3.4v31.4h-3.4zM1551.8 704.97h6.6v31.4h-6.6zM1560.2 704.97h3.8v31.4h-3.8zM1567.5 704.97h7.5v31.4h-7.5zM1577.9 704.97h4v31.4h-4zM1593.1 704.97h4v31.4h-4zM1634.1 704.97h3.9v31.4h-3.9zM1711.9 704.97h3.8v31.4h-3.8z"/>
<path class="b" d="M1489 704.97h3.6v31.4h-3.6z"/>
<path class="r" d="M1877.2 704.97h3.6v31.4h-3.6zM1886.1 704.97h3.6v31.4h-3.6zM2029.1 704.97h3.6v31.4h-3.6z"/>
<path class="n" d="M1331.8 746.53h4v31.4h-4zM1349.2 746.53h4v31.4h-4zM1372.3 746.53h3.9v31.4h-3.9zM1381.4 746.53h3.6v31.4h-3.6zM1399 746.53h3.8v31.4h-3.8zM1406.3 746.53h7.3v31.4h-7.3zM1418.1 746.53h3.8v31.4h-3.8zM1426.6 746.53h8v31.4h-8zM1456.3 746.53h7.7v31.4h-7.7zM1467.5 746.53h3.6v31.4h-3.6zM1472 746.53h9v31.4h-9zM1486.3 746.53h3.8v31.4h-3.8zM1494.1 746.53h8.2v31.4h-8.2zM1506.3 746.53h4v31.4h-4zM1511.1 746.53h20.9v31.4h-20.9zM1546.3 746.53h3.4v31.4h-3.4zM1551.8 746.53h6.6v31.4h-6.6zM1560.2 746.53h3.8v31.4h-3.8zM1567.5 746.53h7.5v31.4h-7.5zM1577.9 746.53h4v31.4h-4zM1593.1 746.53h4v31.4h-4zM1634.1 746.53h3.9v31.4h-3.9zM1711.9 746.53h3.8v31.4h-3.8z"/>
<path class="b" d="M1612.3 746.53h3.6v31.4h-3.6z"/>
<path class="r" d="M1967.2 746.53h3.6v31.4h-3.6zM2052.2 746.53h3.6v31.4h-3.6zM2078.5 746.53h3.6v31.4h-3.6z"/>
<path class="n" d="M1331.8 788.09h4v31.4h-4zM1349.2 788.09h4v31.4h-4zM1372.3 788.09h3.9v31.4h-3.9zM1381.4 788.09h3.6v31.4h-3.6zM1399 788.09h3.8v31.4h-3.8zM1406.3 788.09h7.3v31.4h-7.3zM1418.1 788.09h3.8v31.4h-3.8zM1426.6 788.09h8v31.4h-8zM1456.3 788.09h7.7v31.4h-7.7zM1467.5 788.09h3.6v31.4h-3.6zM1472 788.09h9v31.4h-9zM1486.3 788.09h3.8v31.4h-3.8zM1494.1 788.09h8.2v31.4h-8.2zM1506.3 788.09h4v31.4h-4zM1511.1 788.09h20.9v31.4h-20.9zM1546.3 788.09h3.4v31.4h-3.4zM1551.8 788.09h6.6v31.4h-6.6zM1560.2 788.09h3.8v31.4h-3.8zM1567.5 788.09h7.5v31.4h-7.5zM1577.9 788.09h4v31.4h-4zM1593.1 788.09h4v31.4h-4zM1634.1 788.09h3.9v31.4h-3.9zM1711.9 788.09h3.8v31.4h-3.8z"/>
<path class="b" d="M1447.1 788.09h3.6v31.4h-3.6z"/>
<path class="r" d="M1915.7 788.09h3.6v31.4h-3.6zM1942.5 788.09h3.6v31.4h-3.6zM2011.2 788.09h3.6v31.4h-3.6z"/>
<path class="n" d="M1331.8 829.65h4v31.4h-4zM1349.2 829.65h4v31.4h-4zM1372.3 829.65h3.9v31.4h-3.9zM1381.4 829.65h3.6v31.4h-3.6zM1399 829.65h3.8v31.4h-3.8zM1406.3 829.65h7.3v31.4h-7.3zM1418.1 829.65h3.8v31.4h-3.8zM1426.6 829.65h8v31.4h-8zM1456.3 829.65h7.7v31.4h-7.7zM1467.5 829.65h3.6v31.4h-3.6zM1472 829.65h9v31.4h-9zM1486.3 829.65h3.8v31.4h-3.8zM1494.1 829.65h8.2v31.4h-8.2zM1506.3 829.65h4v31.4h-4zM1511.1 829.65h20.9v31.4h-20.9zM1546.3 829.65h3.4v31.4h-3.4zM1551.8 829.65h6.6v31.4h-6.6zM1560.2 829.65h3.8v31.4h-3.8zM1567.5 829.65h7.5v31.4h-7.5zM1577.9 829.65h4v31.4h-4zM1593.1 829.65h4v31.4h-4zM1634.1 829.65h3.9v31.4h-3.9zM1711.9 829.65h3.8v31.4h-3.8z"/>
<path class="b" d="M1531.9 829.65h3.6v31.4h-3.6z"/>
<path class="r" d="M1989.8 829.65h3.6v31.4h-3.6zM2059.3 829.65h3.6v31.4h-3.6zM2124.9 829.65h3.6v31.4h-3.6z"/>
<path class="n" d="M1331.8 871.21h4v31.4h-4zM1349.2 871.21h4v31.4h-4zM1372.3 871.21h3.9v31.4h-3.9zM1381.4 871.21h3.6v31.4h-3.6zM1399 871.21h3.8v31.4h-3.8zM1406.3 871.21h7.3v31.4h-7.3zM1418.1 871.21h3.8v31.4h-3.8zM1426.6 871.21h8v31.4h-8zM1456.3 871.21h7.7v31.4h-7.7zM1467.5 871.21h3.6v31.4h-3.6zM1472 871.21h9v31.4h-9zM1486.3 871.21h3.8v31.4h-3.8zM1494.1 871.21h8.2v31.4h-8.2zM1506.3 871.21h4v31.4h-4zM1511.1 871.21h20.9v31.4h-20.9zM1546.3 871.21h3.4v31.4h-3.4zM1551.8 871.21h6.6v31.4h-6.6zM1560.2 871.21h3.8v31.4h-3.8zM1567.5 871.21h7.5v31.4h-7.5zM1577.9 871.21h4v31.4h-4zM1593.1 871.21h4v31.4h-4zM1634.1 871.21h3.9v31.4h-3.9zM1711.9 871.21h3.8v31.4h-3.8z"/>
<path class="b" d="M1469.7 871.21h3.6v31.4h-3.6z"/>
<path class="r" d="M2078.1 871.21h3.6v31.4h-3.6zM2101.2 871.21h3.6v31.4h-3.6zM2112.2 871.21h3.6v31.4h-3.6z"/>
<path class="n" d="M1331.8 912.77h4v31.4h-4zM1349.2 912.77h4v31.4h-4zM1372.3 912.77h3.9v31.4h-3.9zM1381.4 912.77h3.6v31.4h-3.6zM1399 912.77h3.8v31.4h-3.8zM1406.3 912.77h7.3v31.4h-7.3zM1418.1 912.77h3.8v31.4h-3.8zM1426.6 912.77h8v31.4h-8zM1456.3 912.77h7.7v31.4h-7.7zM1467.5 912.77h3.6v31.4h-3.6zM1472 912.77h9v31.4h-9zM1486.3 912.77h3.8v31.4h-3.8zM1494.1 912.77h8.2v31.4h-8.2zM1506.3 912.77h4v31.4h-4zM1511.1 912.77h20.9v31.4h-20.9zM1546.3 912.77h3.4v31.4h-3.4zM1551.8 912.77h6.6v31.4h-6.6zM1560.2 912.77h3.8v31.4h-3.8zM1567.5 912.77h7.5v31.4h-7.5zM1577.9 912.77h4v31.4h-4zM1593.1 912.77h4v31.4h-4zM1634.1 912.77h3.9v31.4h-3.9zM1711.9 912.77h3.8v31.4h-3.8z"/>
<path class="b" d="M1336.8 912.77h3.6v31.4h-3.6z"/>
<path class="r" d="M1686.2 912.77h3.6v31.4h-3.6zM1809.7 912.77h3.6v31.4h-3.6zM1826.2 912.77h3.6v31.4h-3.6z"/>
<rect x="1294.3" y="942.3" width="871.7" height="1.9" fill="#242424"/>
<path class="n" d="M1331.8 941.75h4v3h-4zM1349.2 941.75h4v3h-4zM1372.3 941.75h3.9v3h-3.9zM1381.4 941.75h3.6v3h-3.6zM1399 941.75h3.8v3h-3.8zM1406.3 941.75h7.3v3h-7.3zM1418.1 941.75h3.8v3h-3.8zM1426.6 941.75h8v3h-8zM1456.3 941.75h7.7v3h-7.7zM1467.5 941.75h3.6v3h-3.6zM1472 941.75h9v3h-9zM1486.3 941.75h3.8v3h-3.8zM1494.1 941.75h8.2v3h-8.2zM1506.3 941.75h4v3h-4zM1511.1 941.75h20.9v3h-20.9zM1546.3 941.75h3.4v3h-3.4zM1551.8 941.75h6.6v3h-6.6zM1560.2 941.75h3.8v3h-3.8zM1567.5 941.75h7.5v3h-7.5zM1577.9 941.75h4v3h-4zM1593.1 941.75h4v3h-4zM1634.1 941.75h3.9v3h-3.9zM1711.9 941.75h3.8v3h-3.8z"/>
<path class="b" d="M1336.8 941.75h3.6v3h-3.6z"/>
<path class="r" d="M1686.2 941.75h3.6v3h-3.6zM1809.7 941.75h3.6v3h-3.6zM1826.2 941.75h3.6v3h-3.6z"/>
</g>
<rect class="tk" x="1284.5" y="635.45" width="9.8" height="4"/><text class="g" x="1278.9" y="649.15">GPR183</text>
<rect class="tk" x="1284.5" y="677.01" width="9.8" height="4"/><text class="g" x="1278.9" y="690.71">GPR84</text>
<rect class="tk" x="1284.5" y="718.57" width="9.8" height="4"/><text class="g" x="1278.9" y="732.27">GPR34</text>
<rect class="tk" x="1284.5" y="760.13" width="9.8" height="4"/><text class="g" x="1278.9" y="773.83">GPR18</text>
<rect class="tk" x="1284.5" y="801.69" width="9.8" height="4"/><text class="g" x="1278.9" y="815.39">LPAR2</text>
<rect class="tk" x="1284.5" y="843.25" width="9.8" height="4"/><text class="g" x="1278.9" y="856.95">FPR3</text>
<rect class="tk" x="1284.5" y="884.81" width="9.8" height="4"/><text class="g" x="1278.9" y="898.51">C5AR1</text>
<rect class="tk" x="1284.5" y="926.37" width="9.8" height="4"/><text class="g" x="1278.9" y="940.07">CXCR2</text>
<rect class="tk" x="1336.75" y="944.1" width="4.2" height="10.1"/><text class="x" x="1338.4" y="985.65">−5</text>
<rect class="tk" x="1627.25" y="944.1" width="4.2" height="10.1"/><text class="x" x="1628.9" y="985.65">0</text>
<rect class="tk" x="1917.75" y="944.1" width="4.2" height="10.1"/><text class="x" x="1919.4" y="985.65">5</text>
<text class="t" style="font-size:33.6px" x="1635.1" y="1031.75">log<tspan font-size="19.6" dy="11.7" dx="1">2</tspan><tspan dy="-11.7" dx="0">(FC)</tspan></text>
</g>
<g id="panel-d">
<text class="L" x="-1.5" y="1087.1">d</text>
<text class="t" x="145.8" y="1117.7">NSG s.c.: Tumor vs. lung samples</text>
<g clip-path="url(#cp-d)">
<rect class="bo" x="146.1" y="1147.3" width="872.8" height="34.45"/><rect class="bi" x="147.85" y="1150.85" width="869.3" height="28.05"/>
<rect class="bo" x="146.1" y="1188.86" width="872.8" height="34.45"/><rect class="bi" x="147.85" y="1192.41" width="869.3" height="28.05"/>
<rect class="bo" x="146.1" y="1230.42" width="872.8" height="34.45"/><rect class="bi" x="147.85" y="1233.97" width="869.3" height="28.05"/>
<rect class="bo" x="146.1" y="1271.98" width="872.8" height="34.45"/><rect class="bi" x="147.85" y="1275.53" width="869.3" height="28.05"/>
<rect class="bo" x="146.1" y="1313.54" width="872.8" height="34.45"/><rect class="bi" x="147.85" y="1317.09" width="869.3" height="28.05"/>
<rect class="bo" x="146.1" y="1355.1" width="872.8" height="34.45"/><rect class="bi" x="147.85" y="1358.65" width="869.3" height="28.05"/>
<rect class="bo" x="146.1" y="1396.66" width="872.8" height="34.45"/><rect class="bi" x="147.85" y="1400.21" width="869.3" height="28.05"/>
<rect class="bo" x="146.1" y="1438.22" width="872.8" height="34.45"/><rect class="bi" x="147.85" y="1441.77" width="869.3" height="28.05"/>
<path class="n" d="M196.5 1149.1h3.8v31.4h-3.8zM224.3 1149.1h3.9v31.4h-3.9zM231 1149.1h9.9v31.4h-9.9zM246.6 1149.1h3.8v31.4h-3.8zM259.1 1149.1h4v31.4h-4zM267.8 1149.1h3.5v31.4h-3.5zM275.3 1149.1h10.8v31.4h-10.8zM296 1149.1h3.7v31.4h-3.7zM305.7 1149.1h3.9v31.4h-3.9zM315.7 1149.1h4.3v31.4h-4.3zM333 1149.1h3.9v31.4h-3.9zM340 1149.1h3.8v31.4h-3.8zM344.9 1149.1h6.9v31.4h-6.9zM353 1149.1h3.9v31.4h-3.9zM369.2 1149.1h7v31.4h-7zM385.2 1149.1h3.5v31.4h-3.5zM389 1149.1h3.5v31.4h-3.5zM393.9 1149.1h4.4v31.4h-4.4zM400.5 1149.1h3.8v31.4h-3.8zM420 1149.1h3.8v31.4h-3.8zM434.9 1149.1h3.8v31.4h-3.8zM442.2 1149.1h3.8v31.4h-3.8zM459.2 1149.1h3.8v31.4h-3.8zM495.4 1149.1h3.6v31.4h-3.6zM508.3 1149.1h3.4v31.4h-3.4zM516.1 1149.1h3.6v31.4h-3.6zM531 1149.1h3.7v31.4h-3.7zM547.7 1149.1h3.7v31.4h-3.7zM561.3 1149.1h3.8v31.4h-3.8zM594.9 1149.1h3.8v31.4h-3.8zM614.7 1149.1h3.6v31.4h-3.6zM620.1 1149.1h3.8v31.4h-3.8zM630 1149.1h3.8v31.4h-3.8zM647.9 1149.1h3.8v31.4h-3.8z"/>
<path class="b" d="M359.6 1149.1h3.6v31.4h-3.6z"/>
<path class="r" d="M717.2 1149.1h3.6v31.4h-3.6zM834.3 1149.1h3.6v31.4h-3.6zM862.2 1149.1h3.6v31.4h-3.6z"/>
<path class="n" d="M196.5 1190.66h3.8v31.4h-3.8zM224.3 1190.66h3.9v31.4h-3.9zM231 1190.66h9.9v31.4h-9.9zM246.6 1190.66h3.8v31.4h-3.8zM259.1 1190.66h4v31.4h-4zM267.8 1190.66h3.5v31.4h-3.5zM275.3 1190.66h10.8v31.4h-10.8zM296 1190.66h3.7v31.4h-3.7zM305.7 1190.66h3.9v31.4h-3.9zM315.7 1190.66h4.3v31.4h-4.3zM333 1190.66h3.9v31.4h-3.9zM340 1190.66h3.8v31.4h-3.8zM344.9 1190.66h6.9v31.4h-6.9zM353 1190.66h3.9v31.4h-3.9zM369.2 1190.66h7v31.4h-7zM385.2 1190.66h3.5v31.4h-3.5zM389 1190.66h3.5v31.4h-3.5zM393.9 1190.66h4.4v31.4h-4.4zM400.5 1190.66h3.8v31.4h-3.8zM420 1190.66h3.8v31.4h-3.8zM434.9 1190.66h3.8v31.4h-3.8zM442.2 1190.66h3.8v31.4h-3.8zM459.2 1190.66h3.8v31.4h-3.8zM495.4 1190.66h3.6v31.4h-3.6zM508.3 1190.66h3.4v31.4h-3.4zM516.1 1190.66h3.6v31.4h-3.6zM531 1190.66h3.7v31.4h-3.7zM547.7 1190.66h3.7v31.4h-3.7zM561.3 1190.66h3.8v31.4h-3.8zM594.9 1190.66h3.8v31.4h-3.8zM614.7 1190.66h3.6v31.4h-3.6zM620.1 1190.66h3.8v31.4h-3.8zM630 1190.66h3.8v31.4h-3.8zM647.9 1190.66h3.8v31.4h-3.8z"/>
<path class="r" d="M408.6 1190.66h3.6v31.4h-3.6zM734 1190.66h3.6v31.4h-3.6zM750.2 1190.66h3.6v31.4h-3.6zM835.9 1190.66h3.6v31.4h-3.6z"/>
<path class="n" d="M196.5 1232.22h3.8v31.4h-3.8zM224.3 1232.22h3.9v31.4h-3.9zM231 1232.22h9.9v31.4h-9.9zM246.6 1232.22h3.8v31.4h-3.8zM259.1 1232.22h4v31.4h-4zM267.8 1232.22h3.5v31.4h-3.5zM275.3 1232.22h10.8v31.4h-10.8zM296 1232.22h3.7v31.4h-3.7zM305.7 1232.22h3.9v31.4h-3.9zM315.7 1232.22h4.3v31.4h-4.3zM333 1232.22h3.9v31.4h-3.9zM340 1232.22h3.8v31.4h-3.8zM344.9 1232.22h6.9v31.4h-6.9zM353 1232.22h3.9v31.4h-3.9zM369.2 1232.22h7v31.4h-7zM385.2 1232.22h3.5v31.4h-3.5zM389 1232.22h3.5v31.4h-3.5zM393.9 1232.22h4.4v31.4h-4.4zM400.5 1232.22h3.8v31.4h-3.8zM420 1232.22h3.8v31.4h-3.8zM434.9 1232.22h3.8v31.4h-3.8zM442.2 1232.22h3.8v31.4h-3.8zM459.2 1232.22h3.8v31.4h-3.8zM495.4 1232.22h3.6v31.4h-3.6zM508.3 1232.22h3.4v31.4h-3.4zM516.1 1232.22h3.6v31.4h-3.6zM531 1232.22h3.7v31.4h-3.7zM547.7 1232.22h3.7v31.4h-3.7zM561.3 1232.22h3.8v31.4h-3.8zM594.9 1232.22h3.8v31.4h-3.8zM614.7 1232.22h3.6v31.4h-3.6zM620.1 1232.22h3.8v31.4h-3.8zM630 1232.22h3.8v31.4h-3.8zM647.9 1232.22h3.8v31.4h-3.8z"/>
<path class="b" d="M275.1 1232.22h3.6v31.4h-3.6z"/>
<path class="r" d="M783.4 1232.22h3.6v31.4h-3.6zM800.9 1232.22h3.6v31.4h-3.6zM977.1 1232.22h3.6v31.4h-3.6z"/>
<path class="n" d="M196.5 1273.78h3.8v31.4h-3.8zM224.3 1273.78h3.9v31.4h-3.9zM231 1273.78h9.9v31.4h-9.9zM246.6 1273.78h3.8v31.4h-3.8zM259.1 1273.78h4v31.4h-4zM267.8 1273.78h3.5v31.4h-3.5zM275.3 1273.78h10.8v31.4h-10.8zM296 1273.78h3.7v31.4h-3.7zM305.7 1273.78h3.9v31.4h-3.9zM315.7 1273.78h4.3v31.4h-4.3zM333 1273.78h3.9v31.4h-3.9zM340 1273.78h3.8v31.4h-3.8zM344.9 1273.78h6.9v31.4h-6.9zM353 1273.78h3.9v31.4h-3.9zM369.2 1273.78h7v31.4h-7zM385.2 1273.78h3.5v31.4h-3.5zM389 1273.78h3.5v31.4h-3.5zM393.9 1273.78h4.4v31.4h-4.4zM400.5 1273.78h3.8v31.4h-3.8zM420 1273.78h3.8v31.4h-3.8zM434.9 1273.78h3.8v31.4h-3.8zM442.2 1273.78h3.8v31.4h-3.8zM459.2 1273.78h3.8v31.4h-3.8zM495.4 1273.78h3.6v31.4h-3.6zM508.3 1273.78h3.4v31.4h-3.4zM516.1 1273.78h3.6v31.4h-3.6zM531 1273.78h3.7v31.4h-3.7zM547.7 1273.78h3.7v31.4h-3.7zM561.3 1273.78h3.8v31.4h-3.8zM594.9 1273.78h3.8v31.4h-3.8zM614.7 1273.78h3.6v31.4h-3.6zM620.1 1273.78h3.8v31.4h-3.8zM630 1273.78h3.8v31.4h-3.8zM647.9 1273.78h3.8v31.4h-3.8z"/>
<path class="b" d="M333.2 1273.78h3.6v31.4h-3.6z"/>
<path class="r" d="M717.2 1273.78h3.6v31.4h-3.6zM764.9 1273.78h3.6v31.4h-3.6zM865.1 1273.78h3.6v31.4h-3.6z"/>
<path class="n" d="M196.5 1315.34h3.8v31.4h-3.8zM224.3 1315.34h3.9v31.4h-3.9zM231 1315.34h9.9v31.4h-9.9zM246.6 1315.34h3.8v31.4h-3.8zM259.1 1315.34h4v31.4h-4zM267.8 1315.34h3.5v31.4h-3.5zM275.3 1315.34h10.8v31.4h-10.8zM296 1315.34h3.7v31.4h-3.7zM305.7 1315.34h3.9v31.4h-3.9zM315.7 1315.34h4.3v31.4h-4.3zM333 1315.34h3.9v31.4h-3.9zM340 1315.34h3.8v31.4h-3.8zM344.9 1315.34h6.9v31.4h-6.9zM353 1315.34h3.9v31.4h-3.9zM369.2 1315.34h7v31.4h-7zM385.2 1315.34h3.5v31.4h-3.5zM389 1315.34h3.5v31.4h-3.5zM393.9 1315.34h4.4v31.4h-4.4zM400.5 1315.34h3.8v31.4h-3.8zM420 1315.34h3.8v31.4h-3.8zM434.9 1315.34h3.8v31.4h-3.8zM442.2 1315.34h3.8v31.4h-3.8zM459.2 1315.34h3.8v31.4h-3.8zM495.4 1315.34h3.6v31.4h-3.6zM508.3 1315.34h3.4v31.4h-3.4zM516.1 1315.34h3.6v31.4h-3.6zM531 1315.34h3.7v31.4h-3.7zM547.7 1315.34h3.7v31.4h-3.7zM561.3 1315.34h3.8v31.4h-3.8zM594.9 1315.34h3.8v31.4h-3.8zM614.7 1315.34h3.6v31.4h-3.6zM620.1 1315.34h3.8v31.4h-3.8zM630 1315.34h3.8v31.4h-3.8zM647.9 1315.34h3.8v31.4h-3.8z"/>
<path class="r" d="M460 1315.34h3.6v31.4h-3.6zM726.3 1315.34h3.6v31.4h-3.6zM813.1 1315.34h3.6v31.4h-3.6zM845.3 1315.34h3.6v31.4h-3.6z"/>
<path class="n" d="M196.5 1356.9h3.8v31.4h-3.8zM224.3 1356.9h3.9v31.4h-3.9zM231 1356.9h9.9v31.4h-9.9zM246.6 1356.9h3.8v31.4h-3.8zM259.1 1356.9h4v31.4h-4zM267.8 1356.9h3.5v31.4h-3.5zM275.3 1356.9h10.8v31.4h-10.8zM296 1356.9h3.7v31.4h-3.7zM305.7 1356.9h3.9v31.4h-3.9zM315.7 1356.9h4.3v31.4h-4.3zM333 1356.9h3.9v31.4h-3.9zM340 1356.9h3.8v31.4h-3.8zM344.9 1356.9h6.9v31.4h-6.9zM353 1356.9h3.9v31.4h-3.9zM369.2 1356.9h7v31.4h-7zM385.2 1356.9h3.5v31.4h-3.5zM389 1356.9h3.5v31.4h-3.5zM393.9 1356.9h4.4v31.4h-4.4zM400.5 1356.9h3.8v31.4h-3.8zM420 1356.9h3.8v31.4h-3.8zM434.9 1356.9h3.8v31.4h-3.8zM442.2 1356.9h3.8v31.4h-3.8zM459.2 1356.9h3.8v31.4h-3.8zM495.4 1356.9h3.6v31.4h-3.6zM508.3 1356.9h3.4v31.4h-3.4zM516.1 1356.9h3.6v31.4h-3.6zM531 1356.9h3.7v31.4h-3.7zM547.7 1356.9h3.7v31.4h-3.7zM561.3 1356.9h3.8v31.4h-3.8zM594.9 1356.9h3.8v31.4h-3.8zM614.7 1356.9h3.6v31.4h-3.6zM620.1 1356.9h3.8v31.4h-3.8zM630 1356.9h3.8v31.4h-3.8zM647.9 1356.9h3.8v31.4h-3.8z"/>
<path class="r" d="M512.2 1356.9h3.6v31.4h-3.6zM728.4 1356.9h3.6v31.4h-3.6zM755 1356.9h3.6v31.4h-3.6zM839.7 1356.9h3.6v31.4h-3.6z"/>
<path class="n" d="M196.5 1398.46h3.8v31.4h-3.8zM224.3 1398.46h3.9v31.4h-3.9zM231 1398.46h9.9v31.4h-9.9zM246.6 1398.46h3.8v31.4h-3.8zM259.1 1398.46h4v31.4h-4zM267.8 1398.46h3.5v31.4h-3.5zM275.3 1398.46h10.8v31.4h-10.8zM296 1398.46h3.7v31.4h-3.7zM305.7 1398.46h3.9v31.4h-3.9zM315.7 1398.46h4.3v31.4h-4.3zM333 1398.46h3.9v31.4h-3.9zM340 1398.46h3.8v31.4h-3.8zM344.9 1398.46h6.9v31.4h-6.9zM353 1398.46h3.9v31.4h-3.9zM369.2 1398.46h7v31.4h-7zM385.2 1398.46h3.5v31.4h-3.5zM389 1398.46h3.5v31.4h-3.5zM393.9 1398.46h4.4v31.4h-4.4zM400.5 1398.46h3.8v31.4h-3.8zM420 1398.46h3.8v31.4h-3.8zM434.9 1398.46h3.8v31.4h-3.8zM442.2 1398.46h3.8v31.4h-3.8zM459.2 1398.46h3.8v31.4h-3.8zM495.4 1398.46h3.6v31.4h-3.6zM508.3 1398.46h3.4v31.4h-3.4zM516.1 1398.46h3.6v31.4h-3.6zM531 1398.46h3.7v31.4h-3.7zM547.7 1398.46h3.7v31.4h-3.7zM561.3 1398.46h3.8v31.4h-3.8zM594.9 1398.46h3.8v31.4h-3.8zM614.7 1398.46h3.6v31.4h-3.6zM620.1 1398.46h3.8v31.4h-3.8zM630 1398.46h3.8v31.4h-3.8zM647.9 1398.46h3.8v31.4h-3.8z"/>
<path class="b" d="M184.1 1398.46h3.6v31.4h-3.6z"/>
<path class="r" d="M723 1398.46h3.6v31.4h-3.6zM895.4 1398.46h3.6v31.4h-3.6zM923.7 1398.46h3.6v31.4h-3.6z"/>
<path class="n" d="M196.5 1440.02h3.8v31.4h-3.8zM224.3 1440.02h3.9v31.4h-3.9zM231 1440.02h9.9v31.4h-9.9zM246.6 1440.02h3.8v31.4h-3.8zM259.1 1440.02h4v31.4h-4zM267.8 1440.02h3.5v31.4h-3.5zM275.3 1440.02h10.8v31.4h-10.8zM296 1440.02h3.7v31.4h-3.7zM305.7 1440.02h3.9v31.4h-3.9zM315.7 1440.02h4.3v31.4h-4.3zM333 1440.02h3.9v31.4h-3.9zM340 1440.02h3.8v31.4h-3.8zM344.9 1440.02h6.9v31.4h-6.9zM353 1440.02h3.9v31.4h-3.9zM369.2 1440.02h7v31.4h-7zM385.2 1440.02h3.5v31.4h-3.5zM389 1440.02h3.5v31.4h-3.5zM393.9 1440.02h4.4v31.4h-4.4zM400.5 1440.02h3.8v31.4h-3.8zM420 1440.02h3.8v31.4h-3.8zM434.9 1440.02h3.8v31.4h-3.8zM442.2 1440.02h3.8v31.4h-3.8zM459.2 1440.02h3.8v31.4h-3.8zM495.4 1440.02h3.6v31.4h-3.6zM508.3 1440.02h3.4v31.4h-3.4zM516.1 1440.02h3.6v31.4h-3.6zM531 1440.02h3.7v31.4h-3.7zM547.7 1440.02h3.7v31.4h-3.7zM561.3 1440.02h3.8v31.4h-3.8zM594.9 1440.02h3.8v31.4h-3.8zM614.7 1440.02h3.6v31.4h-3.6zM620.1 1440.02h3.8v31.4h-3.8zM630 1440.02h3.8v31.4h-3.8zM647.9 1440.02h3.8v31.4h-3.8z"/>
<path class="r" d="M423.4 1440.02h3.6v31.4h-3.6zM752.4 1440.02h3.6v31.4h-3.6zM771 1440.02h3.6v31.4h-3.6zM785.3 1440.02h3.6v31.4h-3.6z"/>
<rect x="146.1" y="1469.55" width="872.8" height="1.9" fill="#242424"/>
<path class="n" d="M196.5 1469h3.8v3h-3.8zM224.3 1469h3.9v3h-3.9zM231 1469h9.9v3h-9.9zM246.6 1469h3.8v3h-3.8zM259.1 1469h4v3h-4zM267.8 1469h3.5v3h-3.5zM275.3 1469h10.8v3h-10.8zM296 1469h3.7v3h-3.7zM305.7 1469h3.9v3h-3.9zM315.7 1469h4.3v3h-4.3zM333 1469h3.9v3h-3.9zM340 1469h3.8v3h-3.8zM344.9 1469h6.9v3h-6.9zM353 1469h3.9v3h-3.9zM369.2 1469h7v3h-7zM385.2 1469h3.5v3h-3.5zM389 1469h3.5v3h-3.5zM393.9 1469h4.4v3h-4.4zM400.5 1469h3.8v3h-3.8zM420 1469h3.8v3h-3.8zM434.9 1469h3.8v3h-3.8zM442.2 1469h3.8v3h-3.8zM459.2 1469h3.8v3h-3.8zM495.4 1469h3.6v3h-3.6zM508.3 1469h3.4v3h-3.4zM516.1 1469h3.6v3h-3.6zM531 1469h3.7v3h-3.7zM547.7 1469h3.7v3h-3.7zM561.3 1469h3.8v3h-3.8zM594.9 1469h3.8v3h-3.8zM614.7 1469h3.6v3h-3.6zM620.1 1469h3.8v3h-3.8zM630 1469h3.8v3h-3.8zM647.9 1469h3.8v3h-3.8z"/>
<path class="r" d="M423.4 1469h3.6v3h-3.6zM752.4 1469h3.6v3h-3.6zM771 1469h3.6v3h-3.6zM785.3 1469h3.6v3h-3.6z"/>
</g>
<rect class="tk" x="136.3" y="1162.7" width="9.8" height="4"/><text class="g" x="130.7" y="1176.4">GPR183</text>
<rect class="tk" x="136.3" y="1204.26" width="9.8" height="4"/><text class="g" x="130.7" y="1217.96">GPR84</text>
<rect class="tk" x="136.3" y="1245.82" width="9.8" height="4"/><text class="g" x="130.7" y="1259.52">GPR34</text>
<rect class="tk" x="136.3" y="1287.38" width="9.8" height="4"/><text class="g" x="130.7" y="1301.08">GPR18</text>
<rect class="tk" x="136.3" y="1328.94" width="9.8" height="4"/><text class="g" x="130.7" y="1342.64">LPAR2</text>
<rect class="tk" x="136.3" y="1370.5" width="9.8" height="4"/><text class="g" x="130.7" y="1384.2">FPR3</text>
<rect class="tk" x="136.3" y="1412.06" width="9.8" height="4"/><text class="g" x="130.7" y="1425.76">C5AR1</text>
<rect class="tk" x="136.3" y="1453.62" width="9.8" height="4"/><text class="g" x="130.7" y="1467.32">CXCR2</text>
<rect class="tk" x="183.65" y="1471.35" width="4.2" height="10.1"/><text class="x" x="185.3" y="1512.9">−3</text>
<rect class="tk" x="389.35" y="1471.35" width="4.2" height="10.1"/><text class="x" x="391" y="1512.9">0</text>
<rect class="tk" x="595.15" y="1471.35" width="4.2" height="10.1"/><text class="x" x="596.8" y="1512.9">3</text>
<rect class="tk" x="801.05" y="1471.35" width="4.2" height="10.1"/><text class="x" x="802.7" y="1512.9">6</text>
<rect class="tk" x="1006.85" y="1471.35" width="4.2" height="10.1"/><text class="x" x="1008.5" y="1512.9">9</text>
<text class="t" style="font-size:33.6px" x="490" y="1559">log<tspan font-size="19.6" dy="11.7" dx="1">2</tspan><tspan dy="-11.7" dx="0">(FC)</tspan></text>
</g>
<g id="panel-e">
<text class="L" x="1137.7" y="1102">e</text>
<text class="t" x="1294" y="1117.7">NSG s.c.: Tumor vs. NK-92 cell library</text>
<g clip-path="url(#cp-e)">
<rect class="bo" x="1294.3" y="1147.3" width="871.7" height="34.45"/><rect class="bi" x="1296.05" y="1150.85" width="868.2" height="28.05"/>
<rect class="bo" x="1294.3" y="1188.86" width="871.7" height="34.45"/><rect class="bi" x="1296.05" y="1192.41" width="868.2" height="28.05"/>
<rect class="bo" x="1294.3" y="1230.42" width="871.7" height="34.45"/><rect class="bi" x="1296.05" y="1233.97" width="868.2" height="28.05"/>
<rect class="bo" x="1294.3" y="1271.98" width="871.7" height="34.45"/><rect class="bi" x="1296.05" y="1275.53" width="868.2" height="28.05"/>
<rect class="bo" x="1294.3" y="1313.54" width="871.7" height="34.45"/><rect class="bi" x="1296.05" y="1317.09" width="868.2" height="28.05"/>
<rect class="bo" x="1294.3" y="1355.1" width="871.7" height="34.45"/><rect class="bi" x="1296.05" y="1358.65" width="868.2" height="28.05"/>
<rect class="bo" x="1294.3" y="1396.66" width="871.7" height="34.45"/><rect class="bi" x="1296.05" y="1400.21" width="868.2" height="28.05"/>
<rect class="bo" x="1294.3" y="1438.22" width="871.7" height="34.45"/><rect class="bi" x="1296.05" y="1441.77" width="868.2" height="28.05"/>
<path class="n" d="M1331.8 1149.1h4v31.4h-4zM1392 1149.1h3.8v31.4h-3.8zM1398.8 1149.1h3.6v31.4h-3.6zM1427.1 1149.1h3.9v31.4h-3.9zM1432.9 1149.1h4.3v31.4h-4.3zM1442.8 1149.1h7.3v31.4h-7.3zM1452.9 1149.1h3.8v31.4h-3.8zM1460.2 1149.1h3.8v31.4h-3.8zM1482.8 1149.1h6.4v31.4h-6.4zM1496.2 1149.1h3.6v31.4h-3.6zM1501 1149.1h7v31.4h-7zM1508.9 1149.1h4.3v31.4h-4.3zM1513.7 1149.1h10.5v31.4h-10.5zM1527.1 1149.1h9.9v31.4h-9.9zM1543.1 1149.1h4v31.4h-4zM1548.3 1149.1h10.1v31.4h-10.1zM1559 1149.1h6.4v31.4h-6.4zM1568 1149.1h3.5v31.4h-3.5zM1571.8 1149.1h4v31.4h-4zM1577.8 1149.1h6.6v31.4h-6.6zM1597.1 1149.1h3.6v31.4h-3.6zM1626 1149.1h3.8v31.4h-3.8zM1637.1 1149.1h4v31.4h-4z"/>
<path class="r" d="M1592.3 1149.1h3.6v31.4h-3.6zM1838.1 1149.1h3.6v31.4h-3.6zM1941.4 1149.1h3.6v31.4h-3.6zM2023.9 1149.1h3.6v31.4h-3.6z"/>
<path class="n" d="M1331.8 1190.66h4v31.4h-4zM1392 1190.66h3.8v31.4h-3.8zM1398.8 1190.66h3.6v31.4h-3.6zM1427.1 1190.66h3.9v31.4h-3.9zM1432.9 1190.66h4.3v31.4h-4.3zM1442.8 1190.66h7.3v31.4h-7.3zM1452.9 1190.66h3.8v31.4h-3.8zM1460.2 1190.66h3.8v31.4h-3.8zM1482.8 1190.66h6.4v31.4h-6.4zM1496.2 1190.66h3.6v31.4h-3.6zM1501 1190.66h7v31.4h-7zM1508.9 1190.66h4.3v31.4h-4.3zM1513.7 1190.66h10.5v31.4h-10.5zM1527.1 1190.66h9.9v31.4h-9.9zM1543.1 1190.66h4v31.4h-4zM1548.3 1190.66h10.1v31.4h-10.1zM1559 1190.66h6.4v31.4h-6.4zM1568 1190.66h3.5v31.4h-3.5zM1571.8 1190.66h4v31.4h-4zM1577.8 1190.66h6.6v31.4h-6.6zM1597.1 1190.66h3.6v31.4h-3.6zM1626 1190.66h3.8v31.4h-3.8zM1637.1 1190.66h4v31.4h-4z"/>
<path class="b" d="M1412.3 1190.66h3.6v31.4h-3.6z"/>
<path class="r" d="M1832.9 1190.66h3.6v31.4h-3.6zM1872.2 1190.66h3.6v31.4h-3.6zM1919.9 1190.66h3.6v31.4h-3.6z"/>
<path class="n" d="M1331.8 1232.22h4v31.4h-4zM1392 1232.22h3.8v31.4h-3.8zM1398.8 1232.22h3.6v31.4h-3.6zM1427.1 1232.22h3.9v31.4h-3.9zM1432.9 1232.22h4.3v31.4h-4.3zM1442.8 1232.22h7.3v31.4h-7.3zM1452.9 1232.22h3.8v31.4h-3.8zM1460.2 1232.22h3.8v31.4h-3.8zM1482.8 1232.22h6.4v31.4h-6.4zM1496.2 1232.22h3.6v31.4h-3.6zM1501 1232.22h7v31.4h-7zM1508.9 1232.22h4.3v31.4h-4.3zM1513.7 1232.22h10.5v31.4h-10.5zM1527.1 1232.22h9.9v31.4h-9.9zM1543.1 1232.22h4v31.4h-4zM1548.3 1232.22h10.1v31.4h-10.1zM1559 1232.22h6.4v31.4h-6.4zM1568 1232.22h3.5v31.4h-3.5zM1571.8 1232.22h4v31.4h-4zM1577.8 1232.22h6.6v31.4h-6.6zM1597.1 1232.22h3.6v31.4h-3.6zM1626 1232.22h3.8v31.4h-3.8zM1637.1 1232.22h4v31.4h-4z"/>
<path class="dn" d="M1507.9 1232.22h3.6v31.4h-3.6z"/>
<path class="r" d="M1809 1232.22h3.6v31.4h-3.6zM1818.6 1232.22h3.6v31.4h-3.6zM2125.1 1232.22h3.6v31.4h-3.6z"/>
<path class="n" d="M1331.8 1273.78h4v31.4h-4zM1392 1273.78h3.8v31.4h-3.8zM1398.8 1273.78h3.6v31.4h-3.6zM1427.1 1273.78h3.9v31.4h-3.9zM1432.9 1273.78h4.3v31.4h-4.3zM1442.8 1273.78h7.3v31.4h-7.3zM1452.9 1273.78h3.8v31.4h-3.8zM1460.2 1273.78h3.8v31.4h-3.8zM1482.8 1273.78h6.4v31.4h-6.4zM1496.2 1273.78h3.6v31.4h-3.6zM1501 1273.78h7v31.4h-7zM1508.9 1273.78h4.3v31.4h-4.3zM1513.7 1273.78h10.5v31.4h-10.5zM1527.1 1273.78h9.9v31.4h-9.9zM1543.1 1273.78h4v31.4h-4zM1548.3 1273.78h10.1v31.4h-10.1zM1559 1273.78h6.4v31.4h-6.4zM1568 1273.78h3.5v31.4h-3.5zM1571.8 1273.78h4v31.4h-4zM1577.8 1273.78h6.6v31.4h-6.6zM1597.1 1273.78h3.6v31.4h-3.6zM1626 1273.78h3.8v31.4h-3.8zM1637.1 1273.78h4v31.4h-4z"/>
<path class="b" d="M1343.6 1273.78h3.6v31.4h-3.6z"/>
<path class="r" d="M1900.7 1273.78h3.6v31.4h-3.6zM1946.5 1273.78h3.6v31.4h-3.6zM2027.3 1273.78h3.6v31.4h-3.6z"/>
<path class="n" d="M1331.8 1315.34h4v31.4h-4zM1392 1315.34h3.8v31.4h-3.8zM1398.8 1315.34h3.6v31.4h-3.6zM1427.1 1315.34h3.9v31.4h-3.9zM1432.9 1315.34h4.3v31.4h-4.3zM1442.8 1315.34h7.3v31.4h-7.3zM1452.9 1315.34h3.8v31.4h-3.8zM1460.2 1315.34h3.8v31.4h-3.8zM1482.8 1315.34h6.4v31.4h-6.4zM1496.2 1315.34h3.6v31.4h-3.6zM1501 1315.34h7v31.4h-7zM1508.9 1315.34h4.3v31.4h-4.3zM1513.7 1315.34h10.5v31.4h-10.5zM1527.1 1315.34h9.9v31.4h-9.9zM1543.1 1315.34h4v31.4h-4zM1548.3 1315.34h10.1v31.4h-10.1zM1559 1315.34h6.4v31.4h-6.4zM1568 1315.34h3.5v31.4h-3.5zM1571.8 1315.34h4v31.4h-4zM1577.8 1315.34h6.6v31.4h-6.6zM1597.1 1315.34h3.6v31.4h-3.6zM1626 1315.34h3.8v31.4h-3.8zM1637.1 1315.34h4v31.4h-4z"/>
<path class="b" d="M1413.7 1315.34h3.6v31.4h-3.6z"/>
<path class="r" d="M1819.3 1315.34h3.6v31.4h-3.6zM1899.3 1315.34h3.6v31.4h-3.6zM2024.7 1315.34h3.6v31.4h-3.6z"/>
<path class="n" d="M1331.8 1356.9h4v31.4h-4zM1392 1356.9h3.8v31.4h-3.8zM1398.8 1356.9h3.6v31.4h-3.6zM1427.1 1356.9h3.9v31.4h-3.9zM1432.9 1356.9h4.3v31.4h-4.3zM1442.8 1356.9h7.3v31.4h-7.3zM1452.9 1356.9h3.8v31.4h-3.8zM1460.2 1356.9h3.8v31.4h-3.8zM1482.8 1356.9h6.4v31.4h-6.4zM1496.2 1356.9h3.6v31.4h-3.6zM1501 1356.9h7v31.4h-7zM1508.9 1356.9h4.3v31.4h-4.3zM1513.7 1356.9h10.5v31.4h-10.5zM1527.1 1356.9h9.9v31.4h-9.9zM1543.1 1356.9h4v31.4h-4zM1548.3 1356.9h10.1v31.4h-10.1zM1559 1356.9h6.4v31.4h-6.4zM1568 1356.9h3.5v31.4h-3.5zM1571.8 1356.9h4v31.4h-4zM1577.8 1356.9h6.6v31.4h-6.6zM1597.1 1356.9h3.6v31.4h-3.6zM1626 1356.9h3.8v31.4h-3.8zM1637.1 1356.9h4v31.4h-4z"/>
<path class="r" d="M1551.8 1356.9h3.6v31.4h-3.6zM1834.1 1356.9h3.6v31.4h-3.6zM1844.2 1356.9h3.6v31.4h-3.6zM1912.2 1356.9h3.6v31.4h-3.6z"/>
<path class="n" d="M1331.8 1398.46h4v31.4h-4zM1392 1398.46h3.8v31.4h-3.8zM1398.8 1398.46h3.6v31.4h-3.6zM1427.1 1398.46h3.9v31.4h-3.9zM1432.9 1398.46h4.3v31.4h-4.3zM1442.8 1398.46h7.3v31.4h-7.3zM1452.9 1398.46h3.8v31.4h-3.8zM1460.2 1398.46h3.8v31.4h-3.8zM1482.8 1398.46h6.4v31.4h-6.4zM1496.2 1398.46h3.6v31.4h-3.6zM1501 1398.46h7v31.4h-7zM1508.9 1398.46h4.3v31.4h-4.3zM1513.7 1398.46h10.5v31.4h-10.5zM1527.1 1398.46h9.9v31.4h-9.9zM1543.1 1398.46h4v31.4h-4zM1548.3 1398.46h10.1v31.4h-10.1zM1559 1398.46h6.4v31.4h-6.4zM1568 1398.46h3.5v31.4h-3.5zM1571.8 1398.46h4v31.4h-4zM1577.8 1398.46h6.6v31.4h-6.6zM1597.1 1398.46h3.6v31.4h-3.6zM1626 1398.46h3.8v31.4h-3.8zM1637.1 1398.46h4v31.4h-4z"/>
<path class="b" d="M1486.2 1398.46h3.6v31.4h-3.6z"/>
<path class="r" d="M1983.1 1398.46h3.6v31.4h-3.6zM1984.7 1398.46h3.6v31.4h-3.6zM2004.2 1398.46h3.6v31.4h-3.6z"/>
<path class="n" d="M1331.8 1440.02h4v31.4h-4zM1392 1440.02h3.8v31.4h-3.8zM1398.8 1440.02h3.6v31.4h-3.6zM1427.1 1440.02h3.9v31.4h-3.9zM1432.9 1440.02h4.3v31.4h-4.3zM1442.8 1440.02h7.3v31.4h-7.3zM1452.9 1440.02h3.8v31.4h-3.8zM1460.2 1440.02h3.8v31.4h-3.8zM1482.8 1440.02h6.4v31.4h-6.4zM1496.2 1440.02h3.6v31.4h-3.6zM1501 1440.02h7v31.4h-7zM1508.9 1440.02h4.3v31.4h-4.3zM1513.7 1440.02h10.5v31.4h-10.5zM1527.1 1440.02h9.9v31.4h-9.9zM1543.1 1440.02h4v31.4h-4zM1548.3 1440.02h10.1v31.4h-10.1zM1559 1440.02h6.4v31.4h-6.4zM1568 1440.02h3.5v31.4h-3.5zM1571.8 1440.02h4v31.4h-4zM1577.8 1440.02h6.6v31.4h-6.6zM1597.1 1440.02h3.6v31.4h-3.6zM1626 1440.02h3.8v31.4h-3.8zM1637.1 1440.02h4v31.4h-4z"/>
<path class="dn" d="M1519.2 1440.02h3.6v31.4h-3.6z"/>
<path class="r" d="M1679.5 1440.02h3.6v31.4h-3.6zM1771.3 1440.02h3.6v31.4h-3.6zM1852 1440.02h3.6v31.4h-3.6z"/>
<rect x="1294.3" y="1469.55" width="871.7" height="1.9" fill="#242424"/>
<path class="n" d="M1331.8 1469h4v3h-4zM1392 1469h3.8v3h-3.8zM1398.8 1469h3.6v3h-3.6zM1427.1 1469h3.9v3h-3.9zM1432.9 1469h4.3v3h-4.3zM1442.8 1469h7.3v3h-7.3zM1452.9 1469h3.8v3h-3.8zM1460.2 1469h3.8v3h-3.8zM1482.8 1469h6.4v3h-6.4zM1496.2 1469h3.6v3h-3.6zM1501 1469h7v3h-7zM1508.9 1469h4.3v3h-4.3zM1513.7 1469h10.5v3h-10.5zM1527.1 1469h9.9v3h-9.9zM1543.1 1469h4v3h-4zM1548.3 1469h10.1v3h-10.1zM1559 1469h6.4v3h-6.4zM1568 1469h3.5v3h-3.5zM1571.8 1469h4v3h-4zM1577.8 1469h6.6v3h-6.6zM1597.1 1469h3.6v3h-3.6zM1626 1469h3.8v3h-3.8zM1637.1 1469h4v3h-4z"/>
<path class="dn" d="M1519.2 1469h3.6v3h-3.6z"/>
<path class="r" d="M1679.5 1469h3.6v3h-3.6zM1771.3 1469h3.6v3h-3.6zM1852 1469h3.6v3h-3.6z"/>
</g>
<rect class="tk" x="1284.5" y="1162.7" width="9.8" height="4"/><text class="g" x="1278.9" y="1176.4">GPR183</text>
<rect class="tk" x="1284.5" y="1204.26" width="9.8" height="4"/><text class="g" x="1278.9" y="1217.96">GPR84</text>
<rect class="tk" x="1284.5" y="1245.82" width="9.8" height="4"/><text class="g" x="1278.9" y="1259.52">GPR34</text>
<rect class="tk" x="1284.5" y="1287.38" width="9.8" height="4"/><text class="g" x="1278.9" y="1301.08">GPR18</text>
<rect class="tk" x="1284.5" y="1328.94" width="9.8" height="4"/><text class="g" x="1278.9" y="1342.64">LPAR2</text>
<rect class="tk" x="1284.5" y="1370.5" width="9.8" height="4"/><text class="g" x="1278.9" y="1384.2">FPR3</text>
<rect class="tk" x="1284.5" y="1412.06" width="9.8" height="4"/><text class="g" x="1278.9" y="1425.76">C5AR1</text>
<rect class="tk" x="1284.5" y="1453.62" width="9.8" height="4"/><text class="g" x="1278.9" y="1467.32">CXCR2</text>
<rect class="tk" x="1509.15" y="1471.35" width="4.2" height="10.1"/><text class="x" x="1510.8" y="1512.9">0</text>
<rect class="tk" x="1747.35" y="1471.35" width="4.2" height="10.1"/><text class="x" x="1749" y="1512.9">5</text>
<rect class="tk" x="1985.45" y="1471.35" width="4.2" height="10.1"/><text class="x" x="1987.1" y="1512.9">10</text>
<text class="t" style="font-size:33.6px" x="1635.1" y="1559">log<tspan font-size="19.6" dy="11.7" dx="1">2</tspan><tspan dy="-11.7" dx="0">(FC)</tspan></text>
</g>
<g id="panel-f">
<text class="L" x="1.5" y="1619.8">f</text>
<text class="t" x="145.8" y="1644.95">NSG orthotopic: Tumor vs. lung samples</text>
<g clip-path="url(#cp-f)">
<rect class="bo" x="146.1" y="1674.55" width="872.8" height="34.45"/><rect class="bi" x="147.85" y="1678.1" width="869.3" height="28.05"/>
<rect class="bo" x="146.1" y="1716.11" width="872.8" height="34.45"/><rect class="bi" x="147.85" y="1719.66" width="869.3" height="28.05"/>
<rect class="bo" x="146.1" y="1757.67" width="872.8" height="34.45"/><rect class="bi" x="147.85" y="1761.22" width="869.3" height="28.05"/>
<rect class="bo" x="146.1" y="1799.23" width="872.8" height="34.45"/><rect class="bi" x="147.85" y="1802.78" width="869.3" height="28.05"/>
<rect class="bo" x="146.1" y="1840.79" width="872.8" height="34.45"/><rect class="bi" x="147.85" y="1844.34" width="869.3" height="28.05"/>
<rect class="bo" x="146.1" y="1882.35" width="872.8" height="34.45"/><rect class="bi" x="147.85" y="1885.9" width="869.3" height="28.05"/>
<rect class="bo" x="146.1" y="1923.91" width="872.8" height="34.45"/><rect class="bi" x="147.85" y="1927.46" width="869.3" height="28.05"/>
<rect class="bo" x="146.1" y="1965.47" width="872.8" height="34.45"/><rect class="bi" x="147.85" y="1969.02" width="869.3" height="28.05"/>
<path class="n" d="M184 1676.35h3.8v31.4h-3.8zM236 1676.35h3.7v31.4h-3.7zM260.2 1676.35h3.8v31.4h-3.8zM269.9 1676.35h3.8v31.4h-3.8zM283.1 1676.35h3.9v31.4h-3.9zM318.3 1676.35h3.8v31.4h-3.8zM338.3 1676.35h3.4v31.4h-3.4zM342.1 1676.35h3.1v31.4h-3.1zM345.6 1676.35h3.6v31.4h-3.6zM351.8 1676.35h3.9v31.4h-3.9zM367.8 1676.35h4v31.4h-4zM400 1676.35h4v31.4h-4zM406.1 1676.35h5.7v31.4h-5.7zM412.7 1676.35h9.4v31.4h-9.4zM427.8 1676.35h6.1v31.4h-6.1zM452.1 1676.35h5.4v31.4h-5.4zM465.7 1676.35h7.3v31.4h-7.3zM480.8 1676.35h4.3v31.4h-4.3zM486.9 1676.35h3.4v31.4h-3.4zM490.9 1676.35h6.6v31.4h-6.6zM520.8 1676.35h3.6v31.4h-3.6zM533.5 1676.35h3.6v31.4h-3.6zM554.9 1676.35h3.8v31.4h-3.8zM565.7 1676.35h4.1v31.4h-4.1zM581.8 1676.35h3.5v31.4h-3.5zM590.9 1676.35h4.8v31.4h-4.8zM627.9 1676.35h4.2v31.4h-4.2zM643.2 1676.35h3.8v31.4h-3.8zM759.1 1676.35h4.2v31.4h-4.2z"/>
<path class="b" d="M338.4 1676.35h3.6v31.4h-3.6z"/>
<path class="r" d="M883.4 1676.35h3.6v31.4h-3.6zM949.2 1676.35h3.6v31.4h-3.6zM949.8 1676.35h3.6v31.4h-3.6z"/>
<path class="n" d="M184 1717.91h3.8v31.4h-3.8zM236 1717.91h3.7v31.4h-3.7zM260.2 1717.91h3.8v31.4h-3.8zM269.9 1717.91h3.8v31.4h-3.8zM283.1 1717.91h3.9v31.4h-3.9zM318.3 1717.91h3.8v31.4h-3.8zM338.3 1717.91h3.4v31.4h-3.4zM342.1 1717.91h3.1v31.4h-3.1zM345.6 1717.91h3.6v31.4h-3.6zM351.8 1717.91h3.9v31.4h-3.9zM367.8 1717.91h4v31.4h-4zM400 1717.91h4v31.4h-4zM406.1 1717.91h5.7v31.4h-5.7zM412.7 1717.91h9.4v31.4h-9.4zM427.8 1717.91h6.1v31.4h-6.1zM452.1 1717.91h5.4v31.4h-5.4zM465.7 1717.91h7.3v31.4h-7.3zM480.8 1717.91h4.3v31.4h-4.3zM486.9 1717.91h3.4v31.4h-3.4zM490.9 1717.91h6.6v31.4h-6.6zM520.8 1717.91h3.6v31.4h-3.6zM533.5 1717.91h3.6v31.4h-3.6zM554.9 1717.91h3.8v31.4h-3.8zM565.7 1717.91h4.1v31.4h-4.1zM581.8 1717.91h3.5v31.4h-3.5zM590.9 1717.91h4.8v31.4h-4.8zM627.9 1717.91h4.2v31.4h-4.2zM643.2 1717.91h3.8v31.4h-3.8zM759.1 1717.91h4.2v31.4h-4.2z"/>
<path class="b" d="M439.2 1717.91h3.6v31.4h-3.6z"/>
<path class="r" d="M747.4 1717.91h3.6v31.4h-3.6zM800.2 1717.91h3.6v31.4h-3.6zM861.3 1717.91h3.6v31.4h-3.6z"/>
<path class="n" d="M184 1759.47h3.8v31.4h-3.8zM236 1759.47h3.7v31.4h-3.7zM260.2 1759.47h3.8v31.4h-3.8zM269.9 1759.47h3.8v31.4h-3.8zM283.1 1759.47h3.9v31.4h-3.9zM318.3 1759.47h3.8v31.4h-3.8zM338.3 1759.47h3.4v31.4h-3.4zM342.1 1759.47h3.1v31.4h-3.1zM345.6 1759.47h3.6v31.4h-3.6zM351.8 1759.47h3.9v31.4h-3.9zM367.8 1759.47h4v31.4h-4zM400 1759.47h4v31.4h-4zM406.1 1759.47h5.7v31.4h-5.7zM412.7 1759.47h9.4v31.4h-9.4zM427.8 1759.47h6.1v31.4h-6.1zM452.1 1759.47h5.4v31.4h-5.4zM465.7 1759.47h7.3v31.4h-7.3zM480.8 1759.47h4.3v31.4h-4.3zM486.9 1759.47h3.4v31.4h-3.4zM490.9 1759.47h6.6v31.4h-6.6zM520.8 1759.47h3.6v31.4h-3.6zM533.5 1759.47h3.6v31.4h-3.6zM554.9 1759.47h3.8v31.4h-3.8zM565.7 1759.47h4.1v31.4h-4.1zM581.8 1759.47h3.5v31.4h-3.5zM590.9 1759.47h4.8v31.4h-4.8zM627.9 1759.47h4.2v31.4h-4.2zM643.2 1759.47h3.8v31.4h-3.8zM759.1 1759.47h4.2v31.4h-4.2z"/>
<path class="b" d="M200.8 1759.47h3.6v31.4h-3.6z"/>
<path class="r" d="M705.6 1759.47h3.6v31.4h-3.6zM809.3 1759.47h3.6v31.4h-3.6zM838.7 1759.47h3.6v31.4h-3.6z"/>
<path class="n" d="M184 1801.03h3.8v31.4h-3.8zM236 1801.03h3.7v31.4h-3.7zM260.2 1801.03h3.8v31.4h-3.8zM269.9 1801.03h3.8v31.4h-3.8zM283.1 1801.03h3.9v31.4h-3.9zM318.3 1801.03h3.8v31.4h-3.8zM338.3 1801.03h3.4v31.4h-3.4zM342.1 1801.03h3.1v31.4h-3.1zM345.6 1801.03h3.6v31.4h-3.6zM351.8 1801.03h3.9v31.4h-3.9zM367.8 1801.03h4v31.4h-4zM400 1801.03h4v31.4h-4zM406.1 1801.03h5.7v31.4h-5.7zM412.7 1801.03h9.4v31.4h-9.4zM427.8 1801.03h6.1v31.4h-6.1zM452.1 1801.03h5.4v31.4h-5.4zM465.7 1801.03h7.3v31.4h-7.3zM480.8 1801.03h4.3v31.4h-4.3zM486.9 1801.03h3.4v31.4h-3.4zM490.9 1801.03h6.6v31.4h-6.6zM520.8 1801.03h3.6v31.4h-3.6zM533.5 1801.03h3.6v31.4h-3.6zM554.9 1801.03h3.8v31.4h-3.8zM565.7 1801.03h4.1v31.4h-4.1zM581.8 1801.03h3.5v31.4h-3.5zM590.9 1801.03h4.8v31.4h-4.8zM627.9 1801.03h4.2v31.4h-4.2zM643.2 1801.03h3.8v31.4h-3.8zM759.1 1801.03h4.2v31.4h-4.2z"/>
<path class="r" d="M525.1 1801.03h3.6v31.4h-3.6zM805.3 1801.03h3.6v31.4h-3.6zM839.4 1801.03h3.6v31.4h-3.6zM843.2 1801.03h3.6v31.4h-3.6z"/>
<path class="n" d="M184 1842.59h3.8v31.4h-3.8zM236 1842.59h3.7v31.4h-3.7zM260.2 1842.59h3.8v31.4h-3.8zM269.9 1842.59h3.8v31.4h-3.8zM283.1 1842.59h3.9v31.4h-3.9zM318.3 1842.59h3.8v31.4h-3.8zM338.3 1842.59h3.4v31.4h-3.4zM342.1 1842.59h3.1v31.4h-3.1zM345.6 1842.59h3.6v31.4h-3.6zM351.8 1842.59h3.9v31.4h-3.9zM367.8 1842.59h4v31.4h-4zM400 1842.59h4v31.4h-4zM406.1 1842.59h5.7v31.4h-5.7zM412.7 1842.59h9.4v31.4h-9.4zM427.8 1842.59h6.1v31.4h-6.1zM452.1 1842.59h5.4v31.4h-5.4zM465.7 1842.59h7.3v31.4h-7.3zM480.8 1842.59h4.3v31.4h-4.3zM486.9 1842.59h3.4v31.4h-3.4zM490.9 1842.59h6.6v31.4h-6.6zM520.8 1842.59h3.6v31.4h-3.6zM533.5 1842.59h3.6v31.4h-3.6zM554.9 1842.59h3.8v31.4h-3.8zM565.7 1842.59h4.1v31.4h-4.1zM581.8 1842.59h3.5v31.4h-3.5zM590.9 1842.59h4.8v31.4h-4.8zM627.9 1842.59h4.2v31.4h-4.2zM643.2 1842.59h3.8v31.4h-3.8zM759.1 1842.59h4.2v31.4h-4.2z"/>
<path class="r" d="M560.2 1842.59h3.6v31.4h-3.6zM766.3 1842.59h3.6v31.4h-3.6zM849.6 1842.59h3.6v31.4h-3.6zM922.3 1842.59h3.6v31.4h-3.6z"/>
<path class="n" d="M184 1884.15h3.8v31.4h-3.8zM236 1884.15h3.7v31.4h-3.7zM260.2 1884.15h3.8v31.4h-3.8zM269.9 1884.15h3.8v31.4h-3.8zM283.1 1884.15h3.9v31.4h-3.9zM318.3 1884.15h3.8v31.4h-3.8zM338.3 1884.15h3.4v31.4h-3.4zM342.1 1884.15h3.1v31.4h-3.1zM345.6 1884.15h3.6v31.4h-3.6zM351.8 1884.15h3.9v31.4h-3.9zM367.8 1884.15h4v31.4h-4zM400 1884.15h4v31.4h-4zM406.1 1884.15h5.7v31.4h-5.7zM412.7 1884.15h9.4v31.4h-9.4zM427.8 1884.15h6.1v31.4h-6.1zM452.1 1884.15h5.4v31.4h-5.4zM465.7 1884.15h7.3v31.4h-7.3zM480.8 1884.15h4.3v31.4h-4.3zM486.9 1884.15h3.4v31.4h-3.4zM490.9 1884.15h6.6v31.4h-6.6zM520.8 1884.15h3.6v31.4h-3.6zM533.5 1884.15h3.6v31.4h-3.6zM554.9 1884.15h3.8v31.4h-3.8zM565.7 1884.15h4.1v31.4h-4.1zM581.8 1884.15h3.5v31.4h-3.5zM590.9 1884.15h4.8v31.4h-4.8zM627.9 1884.15h4.2v31.4h-4.2zM643.2 1884.15h3.8v31.4h-3.8zM759.1 1884.15h4.2v31.4h-4.2z"/>
<path class="r" d="M582.5 1884.15h3.6v31.4h-3.6zM777.1 1884.15h3.6v31.4h-3.6zM784.1 1884.15h3.6v31.4h-3.6zM824.2 1884.15h3.6v31.4h-3.6z"/>
<path class="n" d="M184 1925.71h3.8v31.4h-3.8zM236 1925.71h3.7v31.4h-3.7zM260.2 1925.71h3.8v31.4h-3.8zM269.9 1925.71h3.8v31.4h-3.8zM283.1 1925.71h3.9v31.4h-3.9zM318.3 1925.71h3.8v31.4h-3.8zM338.3 1925.71h3.4v31.4h-3.4zM342.1 1925.71h3.1v31.4h-3.1zM345.6 1925.71h3.6v31.4h-3.6zM351.8 1925.71h3.9v31.4h-3.9zM367.8 1925.71h4v31.4h-4zM400 1925.71h4v31.4h-4zM406.1 1925.71h5.7v31.4h-5.7zM412.7 1925.71h9.4v31.4h-9.4zM427.8 1925.71h6.1v31.4h-6.1zM452.1 1925.71h5.4v31.4h-5.4zM465.7 1925.71h7.3v31.4h-7.3zM480.8 1925.71h4.3v31.4h-4.3zM486.9 1925.71h3.4v31.4h-3.4zM490.9 1925.71h6.6v31.4h-6.6zM520.8 1925.71h3.6v31.4h-3.6zM533.5 1925.71h3.6v31.4h-3.6zM554.9 1925.71h3.8v31.4h-3.8zM565.7 1925.71h4.1v31.4h-4.1zM581.8 1925.71h3.5v31.4h-3.5zM590.9 1925.71h4.8v31.4h-4.8zM627.9 1925.71h4.2v31.4h-4.2zM643.2 1925.71h3.8v31.4h-3.8zM759.1 1925.71h4.2v31.4h-4.2z"/>
<path class="b" d="M361 1925.71h3.6v31.4h-3.6z"/>
<path class="r" d="M849.9 1925.71h3.6v31.4h-3.6zM852.2 1925.71h3.6v31.4h-3.6zM865.1 1925.71h3.6v31.4h-3.6z"/>
<path class="n" d="M184 1967.27h3.8v31.4h-3.8zM236 1967.27h3.7v31.4h-3.7zM260.2 1967.27h3.8v31.4h-3.8zM269.9 1967.27h3.8v31.4h-3.8zM283.1 1967.27h3.9v31.4h-3.9zM318.3 1967.27h3.8v31.4h-3.8zM338.3 1967.27h3.4v31.4h-3.4zM342.1 1967.27h3.1v31.4h-3.1zM345.6 1967.27h3.6v31.4h-3.6zM351.8 1967.27h3.9v31.4h-3.9zM367.8 1967.27h4v31.4h-4zM400 1967.27h4v31.4h-4zM406.1 1967.27h5.7v31.4h-5.7zM412.7 1967.27h9.4v31.4h-9.4zM427.8 1967.27h6.1v31.4h-6.1zM452.1 1967.27h5.4v31.4h-5.4zM465.7 1967.27h7.3v31.4h-7.3zM480.8 1967.27h4.3v31.4h-4.3zM486.9 1967.27h3.4v31.4h-3.4zM490.9 1967.27h6.6v31.4h-6.6zM520.8 1967.27h3.6v31.4h-3.6zM533.5 1967.27h3.6v31.4h-3.6zM554.9 1967.27h3.8v31.4h-3.8zM565.7 1967.27h4.1v31.4h-4.1zM581.8 1967.27h3.5v31.4h-3.5zM590.9 1967.27h4.8v31.4h-4.8zM627.9 1967.27h4.2v31.4h-4.2zM643.2 1967.27h3.8v31.4h-3.8zM759.1 1967.27h4.2v31.4h-4.2z"/>
<path class="r" d="M538.6 1967.27h3.6v31.4h-3.6zM647.3 1967.27h3.6v31.4h-3.6zM676.7 1967.27h3.6v31.4h-3.6zM977.1 1967.27h3.6v31.4h-3.6z"/>
<rect x="146.1" y="1996.8" width="872.8" height="1.9" fill="#242424"/>
<path class="n" d="M184 1996.25h3.8v3h-3.8zM236 1996.25h3.7v3h-3.7zM260.2 1996.25h3.8v3h-3.8zM269.9 1996.25h3.8v3h-3.8zM283.1 1996.25h3.9v3h-3.9zM318.3 1996.25h3.8v3h-3.8zM338.3 1996.25h3.4v3h-3.4zM342.1 1996.25h3.1v3h-3.1zM345.6 1996.25h3.6v3h-3.6zM351.8 1996.25h3.9v3h-3.9zM367.8 1996.25h4v3h-4zM400 1996.25h4v3h-4zM406.1 1996.25h5.7v3h-5.7zM412.7 1996.25h9.4v3h-9.4zM427.8 1996.25h6.1v3h-6.1zM452.1 1996.25h5.4v3h-5.4zM465.7 1996.25h7.3v3h-7.3zM480.8 1996.25h4.3v3h-4.3zM486.9 1996.25h3.4v3h-3.4zM490.9 1996.25h6.6v3h-6.6zM520.8 1996.25h3.6v3h-3.6zM533.5 1996.25h3.6v3h-3.6zM554.9 1996.25h3.8v3h-3.8zM565.7 1996.25h4.1v3h-4.1zM581.8 1996.25h3.5v3h-3.5zM590.9 1996.25h4.8v3h-4.8zM627.9 1996.25h4.2v3h-4.2zM643.2 1996.25h3.8v3h-3.8zM759.1 1996.25h4.2v3h-4.2z"/>
<path class="r" d="M538.6 1996.25h3.6v3h-3.6zM647.3 1996.25h3.6v3h-3.6zM676.7 1996.25h3.6v3h-3.6zM977.1 1996.25h3.6v3h-3.6z"/>
</g>
<rect class="tk" x="136.3" y="1689.95" width="9.8" height="4"/><text class="g" x="130.7" y="1703.65">GPR183</text>
<rect class="tk" x="136.3" y="1731.51" width="9.8" height="4"/><text class="g" x="130.7" y="1745.21">GPR84</text>
<rect class="tk" x="136.3" y="1773.07" width="9.8" height="4"/><text class="g" x="130.7" y="1786.77">GPR34</text>
<rect class="tk" x="136.3" y="1814.63" width="9.8" height="4"/><text class="g" x="130.7" y="1828.33">GPR18</text>
<rect class="tk" x="136.3" y="1856.19" width="9.8" height="4"/><text class="g" x="130.7" y="1869.89">LPAR2</text>
<rect class="tk" x="136.3" y="1897.75" width="9.8" height="4"/><text class="g" x="130.7" y="1911.45">FPR3</text>
<rect class="tk" x="136.3" y="1939.31" width="9.8" height="4"/><text class="g" x="130.7" y="1953.01">C5AR1</text>
<rect class="tk" x="136.3" y="1980.87" width="9.8" height="4"/><text class="g" x="130.7" y="1994.57">CXCR2</text>
<rect class="tk" x="302.55" y="1998.6" width="4.2" height="10.1"/><text class="x" x="304.2" y="2040.15">−2.5</text>
<rect class="tk" x="483.55" y="1998.6" width="4.2" height="10.1"/><text class="x" x="485.2" y="2040.15">0.0</text>
<rect class="tk" x="664.55" y="1998.6" width="4.2" height="10.1"/><text class="x" x="666.2" y="2040.15">2.5</text>
<rect class="tk" x="845.65" y="1998.6" width="4.2" height="10.1"/><text class="x" x="847.3" y="2040.15">5.0</text>
<text class="t" style="font-size:33.6px" x="490" y="2086.25">log<tspan font-size="19.6" dy="11.7" dx="1">2</tspan><tspan dy="-11.7" dx="0">(FC)</tspan></text>
</g>
<g id="panel-g">
<text class="L" x="1137.8" y="1634.9">g</text>
<text class="t" x="1294" y="1644.95">NSG orthotopic: Tumor vs. NK-92 cell library</text>
<g clip-path="url(#cp-g)">
<rect class="bo" x="1294.3" y="1674.55" width="871.7" height="34.45"/><rect class="bi" x="1296.05" y="1678.1" width="868.2" height="28.05"/>
<rect class="bo" x="1294.3" y="1716.11" width="871.7" height="34.45"/><rect class="bi" x="1296.05" y="1719.66" width="868.2" height="28.05"/>
<rect class="bo" x="1294.3" y="1757.67" width="871.7" height="34.45"/><rect class="bi" x="1296.05" y="1761.22" width="868.2" height="28.05"/>
<rect class="bo" x="1294.3" y="1799.23" width="871.7" height="34.45"/><rect class="bi" x="1296.05" y="1802.78" width="868.2" height="28.05"/>
<rect class="bo" x="1294.3" y="1840.79" width="871.7" height="34.45"/><rect class="bi" x="1296.05" y="1844.34" width="868.2" height="28.05"/>
<rect class="bo" x="1294.3" y="1882.35" width="871.7" height="34.45"/><rect class="bi" x="1296.05" y="1885.9" width="868.2" height="28.05"/>
<rect class="bo" x="1294.3" y="1923.91" width="871.7" height="34.45"/><rect class="bi" x="1296.05" y="1927.46" width="868.2" height="28.05"/>
<rect class="bo" x="1294.3" y="1965.47" width="871.7" height="34.45"/><rect class="bi" x="1296.05" y="1969.02" width="868.2" height="28.05"/>
<path class="n" d="M1331.8 1676.35h4v31.4h-4zM1339 1676.35h3.8v31.4h-3.8zM1352.7 1676.35h3.6v31.4h-3.6zM1361 1676.35h3.9v31.4h-3.9zM1396.7 1676.35h3.8v31.4h-3.8zM1404 1676.35h4v31.4h-4zM1427.7 1676.35h3.8v31.4h-3.8zM1441.6 1676.35h3.8v31.4h-3.8zM1449.7 1676.35h3.9v31.4h-3.9zM1459 1676.35h7.3v31.4h-7.3zM1479 1676.35h3.8v31.4h-3.8zM1485.4 1676.35h3.8v31.4h-3.8zM1492 1676.35h13.4v31.4h-13.4zM1505.9 1676.35h3.8v31.4h-3.8zM1511.5 1676.35h6.1v31.4h-6.1zM1523.1 1676.35h4v31.4h-4zM1527.7 1676.35h7.6v31.4h-7.6zM1538.4 1676.35h11v31.4h-11zM1550.1 1676.35h9.2v31.4h-9.2zM1559.8 1676.35h9.1v31.4h-9.1zM1572.9 1676.35h4.1v31.4h-4.1zM1582.8 1676.35h6.5v31.4h-6.5zM1631.9 1676.35h3.8v31.4h-3.8z"/>
<path class="b" d="M1559.6 1676.35h3.6v31.4h-3.6z"/>
<path class="r" d="M1908.4 1676.35h3.6v31.4h-3.6zM1974.6 1676.35h3.6v31.4h-3.6zM2098.8 1676.35h3.6v31.4h-3.6z"/>
<path class="n" d="M1331.8 1717.91h4v31.4h-4zM1339 1717.91h3.8v31.4h-3.8zM1352.7 1717.91h3.6v31.4h-3.6zM1361 1717.91h3.9v31.4h-3.9zM1396.7 1717.91h3.8v31.4h-3.8zM1404 1717.91h4v31.4h-4zM1427.7 1717.91h3.8v31.4h-3.8zM1441.6 1717.91h3.8v31.4h-3.8zM1449.7 1717.91h3.9v31.4h-3.9zM1459 1717.91h7.3v31.4h-7.3zM1479 1717.91h3.8v31.4h-3.8zM1485.4 1717.91h3.8v31.4h-3.8zM1492 1717.91h13.4v31.4h-13.4zM1505.9 1717.91h3.8v31.4h-3.8zM1511.5 1717.91h6.1v31.4h-6.1zM1523.1 1717.91h4v31.4h-4zM1527.7 1717.91h7.6v31.4h-7.6zM1538.4 1717.91h11v31.4h-11zM1550.1 1717.91h9.2v31.4h-9.2zM1559.8 1717.91h9.1v31.4h-9.1zM1572.9 1717.91h4.1v31.4h-4.1zM1582.8 1717.91h6.5v31.4h-6.5zM1631.9 1717.91h3.8v31.4h-3.8z"/>
<path class="b" d="M1462.5 1717.91h3.6v31.4h-3.6z"/>
<path class="r" d="M1875.7 1717.91h3.6v31.4h-3.6zM1943 1717.91h3.6v31.4h-3.6zM2005.1 1717.91h3.6v31.4h-3.6z"/>
<path class="n" d="M1331.8 1759.47h4v31.4h-4zM1339 1759.47h3.8v31.4h-3.8zM1352.7 1759.47h3.6v31.4h-3.6zM1361 1759.47h3.9v31.4h-3.9zM1396.7 1759.47h3.8v31.4h-3.8zM1404 1759.47h4v31.4h-4zM1427.7 1759.47h3.8v31.4h-3.8zM1441.6 1759.47h3.8v31.4h-3.8zM1449.7 1759.47h3.9v31.4h-3.9zM1459 1759.47h7.3v31.4h-7.3zM1479 1759.47h3.8v31.4h-3.8zM1485.4 1759.47h3.8v31.4h-3.8zM1492 1759.47h13.4v31.4h-13.4zM1505.9 1759.47h3.8v31.4h-3.8zM1511.5 1759.47h6.1v31.4h-6.1zM1523.1 1759.47h4v31.4h-4zM1527.7 1759.47h7.6v31.4h-7.6zM1538.4 1759.47h11v31.4h-11zM1550.1 1759.47h9.2v31.4h-9.2zM1559.8 1759.47h9.1v31.4h-9.1zM1572.9 1759.47h4.1v31.4h-4.1zM1582.8 1759.47h6.5v31.4h-6.5zM1631.9 1759.47h3.8v31.4h-3.8z"/>
<path class="b" d="M1551.9 1759.47h3.6v31.4h-3.6z"/>
<path class="r" d="M1857 1759.47h3.6v31.4h-3.6zM1893.8 1759.47h3.6v31.4h-3.6zM2094.8 1759.47h3.6v31.4h-3.6z"/>
<path class="n" d="M1331.8 1801.03h4v31.4h-4zM1339 1801.03h3.8v31.4h-3.8zM1352.7 1801.03h3.6v31.4h-3.6zM1361 1801.03h3.9v31.4h-3.9zM1396.7 1801.03h3.8v31.4h-3.8zM1404 1801.03h4v31.4h-4zM1427.7 1801.03h3.8v31.4h-3.8zM1441.6 1801.03h3.8v31.4h-3.8zM1449.7 1801.03h3.9v31.4h-3.9zM1459 1801.03h7.3v31.4h-7.3zM1479 1801.03h3.8v31.4h-3.8zM1485.4 1801.03h3.8v31.4h-3.8zM1492 1801.03h13.4v31.4h-13.4zM1505.9 1801.03h3.8v31.4h-3.8zM1511.5 1801.03h6.1v31.4h-6.1zM1523.1 1801.03h4v31.4h-4zM1527.7 1801.03h7.6v31.4h-7.6zM1538.4 1801.03h11v31.4h-11zM1550.1 1801.03h9.2v31.4h-9.2zM1559.8 1801.03h9.1v31.4h-9.1zM1572.9 1801.03h4.1v31.4h-4.1zM1582.8 1801.03h6.5v31.4h-6.5zM1631.9 1801.03h3.8v31.4h-3.8z"/>
<path class="b" d="M1525.2 1801.03h3.6v31.4h-3.6z"/>
<path class="r" d="M1978.3 1801.03h3.6v31.4h-3.6zM2054.3 1801.03h3.6v31.4h-3.6z"/>
<path class="n" d="M1331.8 1842.59h4v31.4h-4zM1339 1842.59h3.8v31.4h-3.8zM1352.7 1842.59h3.6v31.4h-3.6zM1361 1842.59h3.9v31.4h-3.9zM1396.7 1842.59h3.8v31.4h-3.8zM1404 1842.59h4v31.4h-4zM1427.7 1842.59h3.8v31.4h-3.8zM1441.6 1842.59h3.8v31.4h-3.8zM1449.7 1842.59h3.9v31.4h-3.9zM1459 1842.59h7.3v31.4h-7.3zM1479 1842.59h3.8v31.4h-3.8zM1485.4 1842.59h3.8v31.4h-3.8zM1492 1842.59h13.4v31.4h-13.4zM1505.9 1842.59h3.8v31.4h-3.8zM1511.5 1842.59h6.1v31.4h-6.1zM1523.1 1842.59h4v31.4h-4zM1527.7 1842.59h7.6v31.4h-7.6zM1538.4 1842.59h11v31.4h-11zM1550.1 1842.59h9.2v31.4h-9.2zM1559.8 1842.59h9.1v31.4h-9.1zM1572.9 1842.59h4.1v31.4h-4.1zM1582.8 1842.59h6.5v31.4h-6.5zM1631.9 1842.59h3.8v31.4h-3.8z"/>
<path class="b" d="M1470.4 1842.59h3.6v31.4h-3.6z"/>
<path class="r" d="M1880 1842.59h3.6v31.4h-3.6zM1978.8 1842.59h3.6v31.4h-3.6zM2124.7 1842.59h3.6v31.4h-3.6z"/>
<path class="n" d="M1331.8 1884.15h4v31.4h-4zM1339 1884.15h3.8v31.4h-3.8zM1352.7 1884.15h3.6v31.4h-3.6zM1361 1884.15h3.9v31.4h-3.9zM1396.7 1884.15h3.8v31.4h-3.8zM1404 1884.15h4v31.4h-4zM1427.7 1884.15h3.8v31.4h-3.8zM1441.6 1884.15h3.8v31.4h-3.8zM1449.7 1884.15h3.9v31.4h-3.9zM1459 1884.15h7.3v31.4h-7.3zM1479 1884.15h3.8v31.4h-3.8zM1485.4 1884.15h3.8v31.4h-3.8zM1492 1884.15h13.4v31.4h-13.4zM1505.9 1884.15h3.8v31.4h-3.8zM1511.5 1884.15h6.1v31.4h-6.1zM1523.1 1884.15h4v31.4h-4zM1527.7 1884.15h7.6v31.4h-7.6zM1538.4 1884.15h11v31.4h-11zM1550.1 1884.15h9.2v31.4h-9.2zM1559.8 1884.15h9.1v31.4h-9.1zM1572.9 1884.15h4.1v31.4h-4.1zM1582.8 1884.15h6.5v31.4h-6.5zM1631.9 1884.15h3.8v31.4h-3.8z"/>
<path class="b" d="M1515.4 1884.15h3.6v31.4h-3.6z"/>
<path class="r" d="M1838.4 1884.15h3.6v31.4h-3.6zM1921.1 1884.15h3.6v31.4h-3.6zM1976.9 1884.15h3.6v31.4h-3.6z"/>
<path class="n" d="M1331.8 1925.71h4v31.4h-4zM1339 1925.71h3.8v31.4h-3.8zM1352.7 1925.71h3.6v31.4h-3.6zM1361 1925.71h3.9v31.4h-3.9zM1396.7 1925.71h3.8v31.4h-3.8zM1404 1925.71h4v31.4h-4zM1427.7 1925.71h3.8v31.4h-3.8zM1441.6 1925.71h3.8v31.4h-3.8zM1449.7 1925.71h3.9v31.4h-3.9zM1459 1925.71h7.3v31.4h-7.3zM1479 1925.71h3.8v31.4h-3.8zM1485.4 1925.71h3.8v31.4h-3.8zM1492 1925.71h13.4v31.4h-13.4zM1505.9 1925.71h3.8v31.4h-3.8zM1511.5 1925.71h6.1v31.4h-6.1zM1523.1 1925.71h4v31.4h-4zM1527.7 1925.71h7.6v31.4h-7.6zM1538.4 1925.71h11v31.4h-11zM1550.1 1925.71h9.2v31.4h-9.2zM1559.8 1925.71h9.1v31.4h-9.1zM1572.9 1925.71h4.1v31.4h-4.1zM1582.8 1925.71h6.5v31.4h-6.5zM1631.9 1925.71h3.8v31.4h-3.8z"/>
<path class="b" d="M1558.4 1925.71h3.6v31.4h-3.6z"/>
<path class="r" d="M2054.5 1925.71h3.6v31.4h-3.6zM2072.4 1925.71h3.6v31.4h-3.6zM2079.9 1925.71h3.6v31.4h-3.6z"/>
<path class="n" d="M1331.8 1967.27h4v31.4h-4zM1339 1967.27h3.8v31.4h-3.8zM1352.7 1967.27h3.6v31.4h-3.6zM1361 1967.27h3.9v31.4h-3.9zM1396.7 1967.27h3.8v31.4h-3.8zM1404 1967.27h4v31.4h-4zM1427.7 1967.27h3.8v31.4h-3.8zM1441.6 1967.27h3.8v31.4h-3.8zM1449.7 1967.27h3.9v31.4h-3.9zM1459 1967.27h7.3v31.4h-7.3zM1479 1967.27h3.8v31.4h-3.8zM1485.4 1967.27h3.8v31.4h-3.8zM1492 1967.27h13.4v31.4h-13.4zM1505.9 1967.27h3.8v31.4h-3.8zM1511.5 1967.27h6.1v31.4h-6.1zM1523.1 1967.27h4v31.4h-4zM1527.7 1967.27h7.6v31.4h-7.6zM1538.4 1967.27h11v31.4h-11zM1550.1 1967.27h9.2v31.4h-9.2zM1559.8 1967.27h9.1v31.4h-9.1zM1572.9 1967.27h4.1v31.4h-4.1zM1582.8 1967.27h6.5v31.4h-6.5zM1631.9 1967.27h3.8v31.4h-3.8z"/>
<path class="dn" d="M1604.7 1967.27h3.6v31.4h-3.6z"/>
<path class="b" d="M1569.7 1967.27h3.6v31.4h-3.6z"/>
<path class="r" d="M1824 1967.27h3.6v31.4h-3.6zM1959.2 1967.27h3.6v31.4h-3.6z"/>
<rect x="1294.3" y="1996.8" width="871.7" height="1.9" fill="#242424"/>
<path class="n" d="M1331.8 1996.25h4v3h-4zM1339 1996.25h3.8v3h-3.8zM1352.7 1996.25h3.6v3h-3.6zM1361 1996.25h3.9v3h-3.9zM1396.7 1996.25h3.8v3h-3.8zM1404 1996.25h4v3h-4zM1427.7 1996.25h3.8v3h-3.8zM1441.6 1996.25h3.8v3h-3.8zM1449.7 1996.25h3.9v3h-3.9zM1459 1996.25h7.3v3h-7.3zM1479 1996.25h3.8v3h-3.8zM1485.4 1996.25h3.8v3h-3.8zM1492 1996.25h13.4v3h-13.4zM1505.9 1996.25h3.8v3h-3.8zM1511.5 1996.25h6.1v3h-6.1zM1523.1 1996.25h4v3h-4zM1527.7 1996.25h7.6v3h-7.6zM1538.4 1996.25h11v3h-11zM1550.1 1996.25h9.2v3h-9.2zM1559.8 1996.25h9.1v3h-9.1zM1572.9 1996.25h4.1v3h-4.1zM1582.8 1996.25h6.5v3h-6.5zM1631.9 1996.25h3.8v3h-3.8z"/>
<path class="dn" d="M1604.7 1996.25h3.6v3h-3.6z"/>
<path class="b" d="M1569.7 1996.25h3.6v3h-3.6z"/>
<path class="r" d="M1824 1996.25h3.6v3h-3.6zM1959.2 1996.25h3.6v3h-3.6z"/>
</g>
<rect class="tk" x="1284.5" y="1689.95" width="9.8" height="4"/><text class="g" x="1278.9" y="1703.65">GPR183</text>
<rect class="tk" x="1284.5" y="1731.51" width="9.8" height="4"/><text class="g" x="1278.9" y="1745.21">GPR84</text>
<rect class="tk" x="1284.5" y="1773.07" width="9.8" height="4"/><text class="g" x="1278.9" y="1786.77">GPR34</text>
<rect class="tk" x="1284.5" y="1814.63" width="9.8" height="4"/><text class="g" x="1278.9" y="1828.33">GPR18</text>
<rect class="tk" x="1284.5" y="1856.19" width="9.8" height="4"/><text class="g" x="1278.9" y="1869.89">LPAR2</text>
<rect class="tk" x="1284.5" y="1897.75" width="9.8" height="4"/><text class="g" x="1278.9" y="1911.45">FPR3</text>
<rect class="tk" x="1284.5" y="1939.31" width="9.8" height="4"/><text class="g" x="1278.9" y="1953.01">C5AR1</text>
<rect class="tk" x="1284.5" y="1980.87" width="9.8" height="4"/><text class="g" x="1278.9" y="1994.57">CXCR2</text>
<rect class="tk" x="1351.45" y="1998.6" width="4.2" height="10.1"/><text class="x" x="1353.1" y="2040.15">−5</text>
<rect class="tk" x="1616.55" y="1998.6" width="4.2" height="10.1"/><text class="x" x="1618.2" y="2040.15">0</text>
<rect class="tk" x="1881.55" y="1998.6" width="4.2" height="10.1"/><text class="x" x="1883.2" y="2040.15">5</text>
<rect class="tk" x="2146.65" y="1998.6" width="4.2" height="10.1"/><text class="x" x="2148.3" y="2040.15">10</text>
<text class="t" style="font-size:33.6px" x="1635.1" y="2086.25">log<tspan font-size="19.6" dy="11.7" dx="1">2</tspan><tspan dy="-11.7" dx="0">(FC)</tspan></text>
</g>
<g id="legend">
<rect class="n" x="1145" y="111.4" width="5" height="49.4"/><text class="k" x="1164.4" y="143.6">NTC</text>
<rect class="r" x="1145" y="182.4" width="5" height="49"/><text class="k" x="1164.4" y="218.7">Target gene sgRNA, enrichment</text>
<rect class="b" x="1145" y="253" width="5" height="49"/><text class="k" x="1164.4" y="292.8">Target gene sgRNA, depletion</text>
</g>
</svg>
</body>
</html>
